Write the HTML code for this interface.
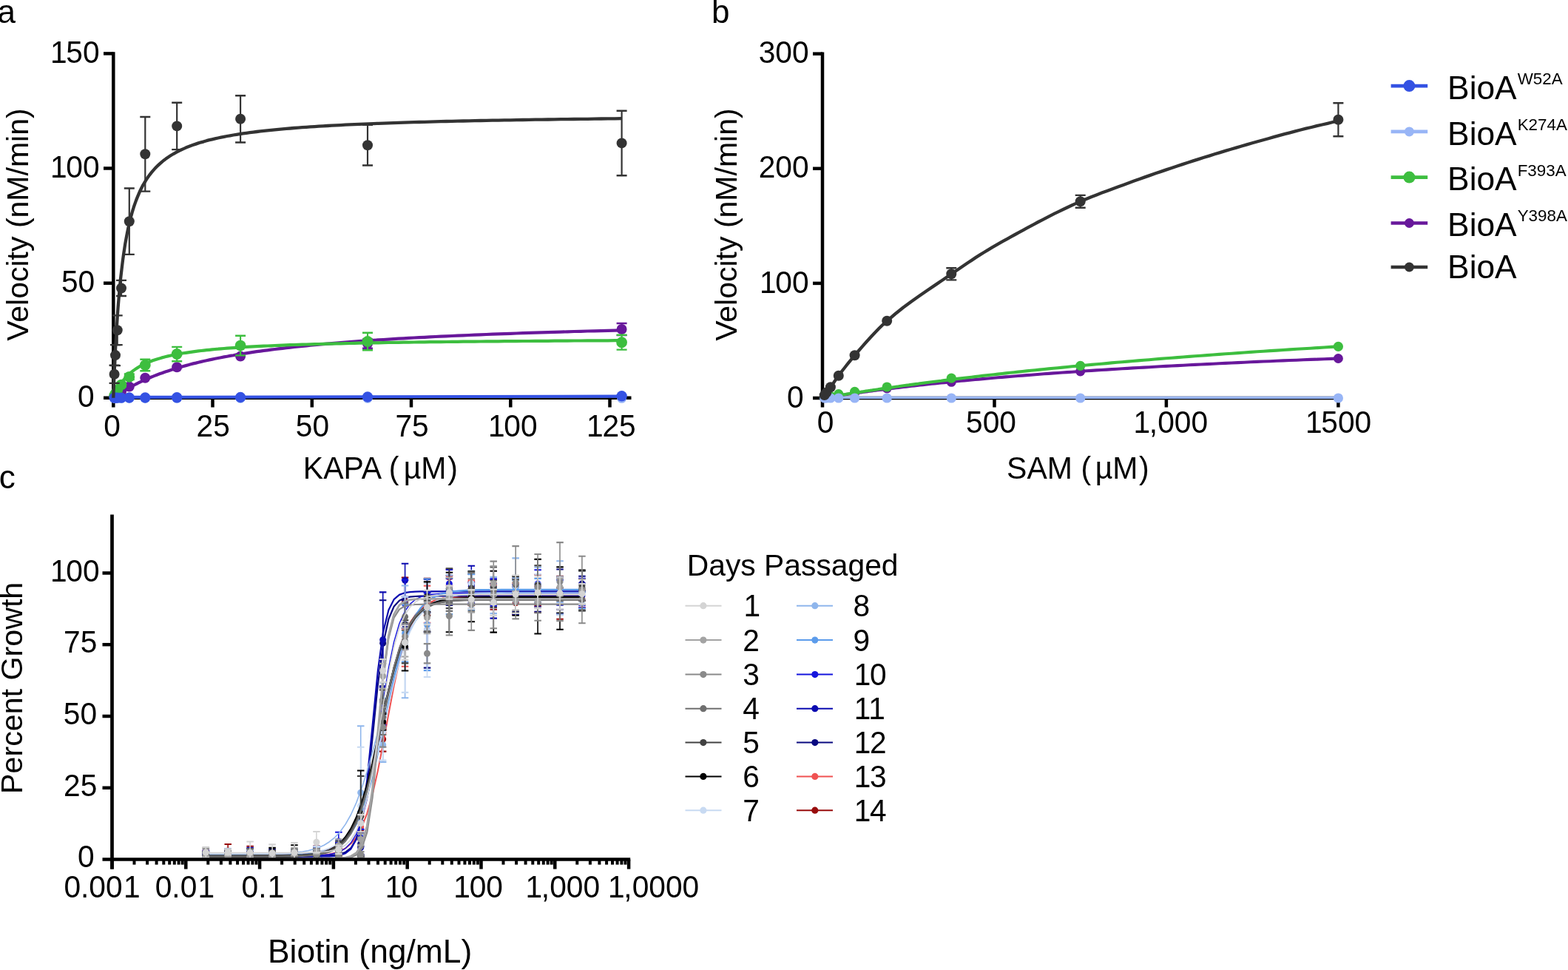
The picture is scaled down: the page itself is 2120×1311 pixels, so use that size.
<!DOCTYPE html>
<html lang="en"><head><meta charset="utf-8"><title>BioA kinetics and biotin passaging</title>
<style>html,body{margin:0;padding:0;background:#fff;}body{width:2120px;height:1311px;overflow:hidden;}svg{display:block;font-family:"Liberation Sans",sans-serif;}</style>
</head><body>
<svg width="2120" height="1311" viewBox="0 0 2120 1311">
<rect width="2120" height="1311" fill="#fff"/>
<g id="panel-letters">
<text x="-3.6" y="30.9" font-size="44">a</text>
<text x="962" y="31.2" font-size="44">b</text>
<text x="-1.2" y="659.6" font-size="44">c</text>
</g>
<g id="panel-a">
<g id="a-axes">
<line x1="153.3" y1="70.2" x2="153.3" y2="550.5" stroke="#000" stroke-width="4.5"/>
<line x1="140" y1="537.8" x2="853.5" y2="537.8" stroke="#000" stroke-width="4.5"/>
<line x1="140" y1="382.7" x2="153.3" y2="382.7" stroke="#000" stroke-width="4.5"/>
<line x1="140" y1="227.5" x2="153.3" y2="227.5" stroke="#000" stroke-width="4.5"/>
<line x1="140" y1="72.4" x2="153.3" y2="72.4" stroke="#000" stroke-width="4.5"/>
<line x1="287.5" y1="537.8" x2="287.5" y2="550.5" stroke="#000" stroke-width="4.5"/>
<line x1="421.8" y1="537.8" x2="421.8" y2="550.5" stroke="#000" stroke-width="4.5"/>
<line x1="556" y1="537.8" x2="556" y2="550.5" stroke="#000" stroke-width="4.5"/>
<line x1="690.3" y1="537.8" x2="690.3" y2="550.5" stroke="#000" stroke-width="4.5"/>
<line x1="824.5" y1="537.8" x2="824.5" y2="550.5" stroke="#000" stroke-width="4.5"/>
</g>
<g id="a-ticklabels">
<text transform="translate(66.7 85) scale(1 1.04)" font-size="40.7" dx="1.3 -1.3 0">150</text>
<text transform="translate(66.7 240.1) scale(1 1.04)" font-size="40.7" dx="1.3 -1.3 0">100</text>
<text transform="translate(82.9 395.3) scale(1 1.04)" font-size="40.7">50</text>
<text transform="translate(104.9 550.4) scale(1 1.04)" font-size="40.7">0</text>
<text transform="translate(140.3 590) scale(1 1.04)" font-size="40.7">0</text>
<text transform="translate(265.6 590) scale(1 1.04)" font-size="40.7">25</text>
<text transform="translate(399.8 590) scale(1 1.04)" font-size="40.7">50</text>
<text transform="translate(534.4 590) scale(1 1.04)" font-size="40.7">75</text>
<text transform="translate(658.7 590) scale(1 1.04)" font-size="40.7" dx="1.3 -1.3 0">100</text>
<text transform="translate(791.8 590) scale(1 1.04)" font-size="40.7" dx="1.3 -1.3 0">125</text>
</g>
<text transform="translate(409.8 646.8) scale(1 1.05)" font-size="41" dx="0 0 0 0 0 0.4 0 -5 -0.1 1.8">KAPA ( µM)</text>
<text transform="translate(38 460.8) rotate(-90)" font-size="41">Velocity (nM/min)</text>
<g id="a-Y398A">
<path d="M153.3 537.8 L153.3 537.8 L153.3 537.8 L153.4 537.7 L153.5 537.6 L153.6 537.6 L153.8 537.4 L154 537.3 L154.2 537.1 L154.5 536.9 L154.8 536.7 L155.2 536.4 L155.6 536.1 L156 535.8 L156.5 535.5 L157.1 535.1 L157.6 534.7 L158.3 534.3 L158.9 533.8 L159.6 533.3 L160.4 532.8 L161.2 532.3 L162 531.7 L162.9 531.2 L163.9 530.5 L164.9 529.9 L165.9 529.2 L167 528.6 L168.2 527.9 L169.3 527.1 L170.6 526.4 L171.9 525.6 L173.2 524.9 L174.6 524.1 L176.1 523.3 L177.6 522.4 L179.1 521.6 L180.7 520.7 L182.4 519.9 L184.1 519 L185.9 518.1 L187.7 517.2 L189.5 516.3 L191.5 515.4 L193.4 514.5 L195.5 513.6 L197.6 512.6 L199.7 511.7 L201.9 510.8 L204.2 509.8 L206.5 508.9 L208.9 507.9 L211.3 507 L213.8 506 L216.3 505.1 L218.9 504.2 L221.5 503.2 L224.3 502.3 L227 501.4 L229.9 500.4 L232.7 499.5 L235.7 498.6 L238.7 497.7 L241.7 496.8 L244.9 495.9 L248 495 L251.3 494.1 L254.6 493.2 L257.9 492.3 L261.3 491.4 L264.8 490.6 L268.3 489.7 L271.9 488.9 L275.6 488 L279.3 487.2 L283.1 486.4 L286.9 485.6 L290.8 484.8 L294.8 484 L298.8 483.2 L302.9 482.4 L307 481.7 L311.2 480.9 L315.5 480.2 L319.8 479.4 L324.2 478.7 L328.7 478 L333.2 477.3 L337.8 476.6 L342.4 475.9 L347.1 475.2 L351.9 474.6 L356.7 473.9 L361.6 473.3 L366.6 472.6 L371.6 472 L376.7 471.4 L381.9 470.8 L387.1 470.2 L392.3 469.6 L397.7 469 L403.1 468.4 L408.6 467.8 L414.1 467.3 L419.7 466.7 L425.4 466.2 L431.1 465.6 L436.9 465.1 L442.8 464.6 L448.7 464.1 L454.7 463.6 L460.8 463.1 L466.9 462.6 L473.1 462.1 L479.3 461.7 L485.7 461.2 L492.1 460.7 L498.5 460.3 L505 459.8 L511.6 459.4 L518.3 459 L525 458.6 L531.8 458.1 L538.7 457.7 L545.6 457.3 L552.6 456.9 L559.7 456.5 L566.8 456.2 L574 455.8 L581.2 455.4 L588.6 455 L596 454.7 L603.4 454.3 L611 454 L618.6 453.6 L626.3 453.3 L634 453 L641.8 452.6 L649.7 452.3 L657.6 452 L665.7 451.7 L673.7 451.4 L681.9 451.1 L690.1 450.8 L698.4 450.5 L706.8 450.2 L715.2 449.9 L723.7 449.6 L732.3 449.4 L740.9 449.1 L749.6 448.8 L758.4 448.6 L767.3 448.3 L776.2 448 L785.2 447.8 L794.2 447.5 L803.4 447.3 L812.6 447.1 L821.8 446.8 L831.2 446.6 L840.6 446.4" fill="none" stroke="#68189B" stroke-width="4.2" stroke-linejoin="round"/>
<path d="M497 458.4V470.8" stroke="#68189B" stroke-width="2.2"/>
<path d="M490 458.4h14M490 470.8h14" stroke="#68189B" stroke-width="2.4"/>
<path d="M840.6 437V453.1" stroke="#68189B" stroke-width="2.2"/>
<path d="M833.6 437h14M833.6 453.1h14" stroke="#68189B" stroke-width="2.4"/>
<circle cx="154.6" cy="536.6" r="7" fill="#68189B"/>
<circle cx="156" cy="535.3" r="7" fill="#68189B"/>
<circle cx="158.7" cy="533.5" r="7" fill="#68189B"/>
<circle cx="164" cy="529.7" r="7" fill="#68189B"/>
<circle cx="174.8" cy="522.6" r="7" fill="#68189B"/>
<circle cx="196.3" cy="510.8" r="7" fill="#68189B"/>
<circle cx="239.2" cy="496.2" r="7" fill="#68189B"/>
<circle cx="325.1" cy="481.6" r="7" fill="#68189B"/>
<circle cx="497" cy="464.6" r="7" fill="#68189B"/>
<circle cx="840.6" cy="445" r="7" fill="#68189B"/>
</g>
<g id="a-F393A">
<path d="M153.3 537.8 L153.3 537.8 L153.3 537.7 L153.4 537.5 L153.5 537.3 L153.6 537 L153.8 536.6 L154 536.1 L154.2 535.5 L154.5 534.9 L154.8 534.1 L155.2 533.3 L155.6 532.4 L156 531.5 L156.5 530.4 L157.1 529.4 L157.6 528.2 L158.3 527 L158.9 525.8 L159.6 524.5 L160.4 523.2 L161.2 521.9 L162 520.6 L162.9 519.2 L163.9 517.8 L164.9 516.4 L165.9 515.1 L167 513.7 L168.2 512.3 L169.3 510.9 L170.6 509.6 L171.9 508.2 L173.2 506.9 L174.6 505.6 L176.1 504.3 L177.6 503 L179.1 501.8 L180.7 500.6 L182.4 499.4 L184.1 498.2 L185.9 497.1 L187.7 496 L189.5 494.9 L191.5 493.9 L193.4 492.9 L195.5 491.9 L197.6 490.9 L199.7 490 L201.9 489.1 L204.2 488.2 L206.5 487.3 L208.9 486.5 L211.3 485.7 L213.8 484.9 L216.3 484.2 L218.9 483.4 L221.5 482.7 L224.3 482 L227 481.4 L229.9 480.7 L232.7 480.1 L235.7 479.5 L238.7 478.9 L241.7 478.3 L244.9 477.8 L248 477.3 L251.3 476.8 L254.6 476.3 L257.9 475.8 L261.3 475.3 L264.8 474.8 L268.3 474.4 L271.9 474 L275.6 473.6 L279.3 473.2 L283.1 472.8 L286.9 472.4 L290.8 472 L294.8 471.7 L298.8 471.3 L302.9 471 L307 470.7 L311.2 470.4 L315.5 470.1 L319.8 469.8 L324.2 469.5 L328.7 469.2 L333.2 468.9 L337.8 468.7 L342.4 468.4 L347.1 468.2 L351.9 467.9 L356.7 467.7 L361.6 467.5 L366.6 467.3 L371.6 467 L376.7 466.8 L381.9 466.6 L387.1 466.4 L392.3 466.2 L397.7 466 L403.1 465.9 L408.6 465.7 L414.1 465.5 L419.7 465.3 L425.4 465.2 L431.1 465 L436.9 464.9 L442.8 464.7 L448.7 464.6 L454.7 464.4 L460.8 464.3 L466.9 464.1 L473.1 464 L479.3 463.9 L485.7 463.7 L492.1 463.6 L498.5 463.5 L505 463.4 L511.6 463.3 L518.3 463.2 L525 463 L531.8 462.9 L538.7 462.8 L545.6 462.7 L552.6 462.6 L559.7 462.5 L566.8 462.4 L574 462.3 L581.2 462.2 L588.6 462.2 L596 462.1 L603.4 462 L611 461.9 L618.6 461.8 L626.3 461.7 L634 461.7 L641.8 461.6 L649.7 461.5 L657.6 461.4 L665.7 461.4 L673.7 461.3 L681.9 461.2 L690.1 461.1 L698.4 461.1 L706.8 461 L715.2 461 L723.7 460.9 L732.3 460.8 L740.9 460.8 L749.6 460.7 L758.4 460.7 L767.3 460.6 L776.2 460.5 L785.2 460.5 L794.2 460.4 L803.4 460.4 L812.6 460.3 L821.8 460.3 L831.2 460.2 L840.6 460.2" fill="none" stroke="#3DBE3F" stroke-width="4.2" stroke-linejoin="round"/>
<path d="M164 517.6V522.6" stroke="#3DBE3F" stroke-width="2.2"/>
<path d="M157 517.6h14M157 522.6h14" stroke="#3DBE3F" stroke-width="2.4"/>
<path d="M174.8 505.5V513" stroke="#3DBE3F" stroke-width="2.2"/>
<path d="M167.8 505.5h14M167.8 513h14" stroke="#3DBE3F" stroke-width="2.4"/>
<path d="M196.3 485.8V501.3" stroke="#3DBE3F" stroke-width="2.2"/>
<path d="M189.3 485.8h14M189.3 501.3h14" stroke="#3DBE3F" stroke-width="2.4"/>
<path d="M239.2 468.9V488.2" stroke="#3DBE3F" stroke-width="2.2"/>
<path d="M232.2 468.9h14M232.2 488.2h14" stroke="#3DBE3F" stroke-width="2.4"/>
<path d="M325.1 453.7V480.4" stroke="#3DBE3F" stroke-width="2.2"/>
<path d="M318.1 453.7h14M318.1 480.4h14" stroke="#3DBE3F" stroke-width="2.4"/>
<path d="M497 449.7V473.3" stroke="#3DBE3F" stroke-width="2.2"/>
<path d="M490 449.7h14M490 473.3h14" stroke="#3DBE3F" stroke-width="2.4"/>
<path d="M840.6 452.8V472.6" stroke="#3DBE3F" stroke-width="2.2"/>
<path d="M833.6 452.8h14M833.6 472.6h14" stroke="#3DBE3F" stroke-width="2.4"/>
<circle cx="154.6" cy="534.7" r="7.4" fill="#3DBE3F"/>
<circle cx="156" cy="531.9" r="7.4" fill="#3DBE3F"/>
<circle cx="158.7" cy="527.3" r="7.4" fill="#3DBE3F"/>
<circle cx="164" cy="520.1" r="7.4" fill="#3DBE3F"/>
<circle cx="174.8" cy="509.3" r="7.4" fill="#3DBE3F"/>
<circle cx="196.3" cy="493.6" r="7.4" fill="#3DBE3F"/>
<circle cx="239.2" cy="478.5" r="7.4" fill="#3DBE3F"/>
<circle cx="325.1" cy="467.1" r="7.4" fill="#3DBE3F"/>
<circle cx="497" cy="461.5" r="7.4" fill="#3DBE3F"/>
<circle cx="840.6" cy="462.7" r="7.4" fill="#3DBE3F"/>
</g>
<g id="a-K274A">
<path d="M153.3 536.8 L840.6 535.8" fill="none" stroke="#98B5F6" stroke-width="3" stroke-linejoin="round"/>
<circle cx="154.6" cy="538.3" r="6.5" fill="#98B5F6"/>
<circle cx="156" cy="538.3" r="6.5" fill="#98B5F6"/>
<circle cx="158.7" cy="538.3" r="6.5" fill="#98B5F6"/>
<circle cx="164" cy="538.3" r="6.5" fill="#98B5F6"/>
<circle cx="174.8" cy="538.3" r="6.5" fill="#98B5F6"/>
<circle cx="196.3" cy="538.3" r="6.5" fill="#98B5F6"/>
<circle cx="239.2" cy="538.3" r="6.5" fill="#98B5F6"/>
<circle cx="325.1" cy="538.3" r="6.5" fill="#98B5F6"/>
<circle cx="497" cy="538.3" r="6.5" fill="#98B5F6"/>
<circle cx="840.6" cy="538.3" r="6.5" fill="#98B5F6"/>
</g>
<g id="a-W52A">
<path d="M153.3 536.9 L840.6 535.6" fill="none" stroke="#3452E3" stroke-width="4.1" stroke-linejoin="round"/>
<circle cx="154.6" cy="537.6" r="7.2" fill="#3452E3"/>
<circle cx="156" cy="537.6" r="7.2" fill="#3452E3"/>
<circle cx="158.7" cy="537.6" r="7.2" fill="#3452E3"/>
<circle cx="164" cy="537.6" r="7.2" fill="#3452E3"/>
<circle cx="174.8" cy="537.5" r="7.2" fill="#3452E3"/>
<circle cx="196.3" cy="537.5" r="7.2" fill="#3452E3"/>
<circle cx="239.2" cy="537.3" r="7.2" fill="#3452E3"/>
<circle cx="325.1" cy="537" r="7.2" fill="#3452E3"/>
<circle cx="497" cy="536.5" r="7.2" fill="#3452E3"/>
<circle cx="840.6" cy="535.3" r="7.2" fill="#3452E3"/>
</g>
<g id="a-BioA">
<path d="M153.3 537.8 L153.3 537.5 L153.3 536.5 L153.4 534.7 L153.5 532.1 L153.6 528.5 L153.8 524.1 L154 518.8 L154.2 512.8 L154.5 506 L154.8 498.6 L155.2 490.5 L155.6 482 L156 473 L156.5 463.8 L157.1 454.3 L157.6 444.6 L158.3 434.9 L158.9 425.1 L159.6 415.4 L160.4 405.8 L161.2 396.4 L162 387.1 L162.9 378 L163.9 369.2 L164.9 360.7 L165.9 352.4 L167 344.4 L168.2 336.7 L169.3 329.3 L170.6 322.2 L171.9 315.4 L173.2 308.9 L174.6 302.6 L176.1 296.6 L177.6 290.9 L179.1 285.5 L180.7 280.3 L182.4 275.4 L184.1 270.6 L185.9 266.1 L187.7 261.8 L189.5 257.7 L191.5 253.8 L193.4 250.1 L195.5 246.6 L197.6 243.2 L199.7 239.9 L201.9 236.8 L204.2 233.9 L206.5 231.1 L208.9 228.4 L211.3 225.8 L213.8 223.4 L216.3 221.1 L218.9 218.8 L221.5 216.7 L224.3 214.6 L227 212.7 L229.9 210.8 L232.7 209 L235.7 207.3 L238.7 205.6 L241.7 204 L244.9 202.5 L248 201.1 L251.3 199.6 L254.6 198.3 L257.9 197 L261.3 195.8 L264.8 194.6 L268.3 193.4 L271.9 192.3 L275.6 191.3 L279.3 190.2 L283.1 189.2 L286.9 188.3 L290.8 187.4 L294.8 186.5 L298.8 185.6 L302.9 184.8 L307 184 L311.2 183.3 L315.5 182.5 L319.8 181.8 L324.2 181.1 L328.7 180.4 L333.2 179.8 L337.8 179.2 L342.4 178.6 L347.1 178 L351.9 177.4 L356.7 176.9 L361.6 176.3 L366.6 175.8 L371.6 175.3 L376.7 174.8 L381.9 174.4 L387.1 173.9 L392.3 173.5 L397.7 173 L403.1 172.6 L408.6 172.2 L414.1 171.8 L419.7 171.4 L425.4 171.1 L431.1 170.7 L436.9 170.4 L442.8 170 L448.7 169.7 L454.7 169.4 L460.8 169.1 L466.9 168.7 L473.1 168.4 L479.3 168.2 L485.7 167.9 L492.1 167.6 L498.5 167.3 L505 167.1 L511.6 166.8 L518.3 166.6 L525 166.3 L531.8 166.1 L538.7 165.9 L545.6 165.6 L552.6 165.4 L559.7 165.2 L566.8 165 L574 164.8 L581.2 164.6 L588.6 164.4 L596 164.2 L603.4 164 L611 163.9 L618.6 163.7 L626.3 163.5 L634 163.3 L641.8 163.2 L649.7 163 L657.6 162.9 L665.7 162.7 L673.7 162.6 L681.9 162.4 L690.1 162.3 L698.4 162.1 L706.8 162 L715.2 161.8 L723.7 161.7 L732.3 161.6 L740.9 161.5 L749.6 161.3 L758.4 161.2 L767.3 161.1 L776.2 161 L785.2 160.9 L794.2 160.8 L803.4 160.6 L812.6 160.5 L821.8 160.4 L831.2 160.3 L840.6 160.2" fill="none" stroke="#333333" stroke-width="4.3" stroke-linejoin="round"/>
<path d="M154.6 493.7V517.9" stroke="#333333" stroke-width="2.2"/>
<path d="M147.6 493.7h14M147.6 517.9h14" stroke="#333333" stroke-width="2.4"/>
<path d="M156 466.1V494.1" stroke="#333333" stroke-width="2.2"/>
<path d="M149 466.1h14M149 494.1h14" stroke="#333333" stroke-width="2.4"/>
<path d="M158.7 426.4V466.1" stroke="#333333" stroke-width="2.2"/>
<path d="M151.7 426.4h14M151.7 466.1h14" stroke="#333333" stroke-width="2.4"/>
<path d="M164 378.9V400" stroke="#333333" stroke-width="2.2"/>
<path d="M157 378.9h14M157 400h14" stroke="#333333" stroke-width="2.4"/>
<path d="M174.8 254.5V343.9" stroke="#333333" stroke-width="2.2"/>
<path d="M167.8 254.5h14M167.8 343.9h14" stroke="#333333" stroke-width="2.4"/>
<path d="M196.3 158V258.6" stroke="#333333" stroke-width="2.2"/>
<path d="M189.3 158h14M189.3 258.6h14" stroke="#333333" stroke-width="2.4"/>
<path d="M239.2 138.8V202.1" stroke="#333333" stroke-width="2.2"/>
<path d="M232.2 138.8h14M232.2 202.1h14" stroke="#333333" stroke-width="2.4"/>
<path d="M325.1 129.2V192.5" stroke="#333333" stroke-width="2.2"/>
<path d="M318.1 129.2h14M318.1 192.5h14" stroke="#333333" stroke-width="2.4"/>
<path d="M497 168.9V223.5" stroke="#333333" stroke-width="2.2"/>
<path d="M490 168.9h14M490 223.5h14" stroke="#333333" stroke-width="2.4"/>
<path d="M840.6 149.7V237.2" stroke="#333333" stroke-width="2.2"/>
<path d="M833.6 149.7h14M833.6 237.2h14" stroke="#333333" stroke-width="2.4"/>
<circle cx="154.6" cy="505.8" r="7" fill="#333333"/>
<circle cx="156" cy="480.1" r="7" fill="#333333"/>
<circle cx="158.7" cy="446.3" r="7" fill="#333333"/>
<circle cx="164" cy="389.5" r="7" fill="#333333"/>
<circle cx="174.8" cy="299.2" r="7" fill="#333333"/>
<circle cx="196.3" cy="208.3" r="7" fill="#333333"/>
<circle cx="239.2" cy="170.4" r="7" fill="#333333"/>
<circle cx="325.1" cy="160.8" r="7" fill="#333333"/>
<circle cx="497" cy="196.2" r="7" fill="#333333"/>
<circle cx="840.6" cy="193.4" r="7" fill="#333333"/>
</g>
</g>
<g id="panel-b">
<g id="b-axes">
<line x1="1112" y1="70.5" x2="1112" y2="550.5" stroke="#000" stroke-width="4.5"/>
<line x1="1099" y1="538" x2="1811.7" y2="538" stroke="#000" stroke-width="4.5"/>
<line x1="1099" y1="382.9" x2="1112" y2="382.9" stroke="#000" stroke-width="4.5"/>
<line x1="1099" y1="227.8" x2="1112" y2="227.8" stroke="#000" stroke-width="4.5"/>
<line x1="1099" y1="72.7" x2="1112" y2="72.7" stroke="#000" stroke-width="4.5"/>
<line x1="1344.5" y1="538" x2="1344.5" y2="550.5" stroke="#000" stroke-width="4.5"/>
<line x1="1576.9" y1="538" x2="1576.9" y2="550.5" stroke="#000" stroke-width="4.5"/>
<line x1="1809.4" y1="538" x2="1809.4" y2="550.5" stroke="#000" stroke-width="4.5"/>
</g>
<g id="b-ticklabels">
<text transform="translate(1025.7 85.3) scale(1 1.04)" font-size="40.7">300</text>
<text transform="translate(1025.7 240.4) scale(1 1.04)" font-size="40.7">200</text>
<text transform="translate(1025.7 395.5) scale(1 1.04)" font-size="40.7" dx="1.3 -1.3 0">100</text>
<text transform="translate(1063.9 550.6) scale(1 1.04)" font-size="40.7">0</text>
<text transform="translate(1104.7 585) scale(1 1.04)" font-size="40.7">0</text>
<text transform="translate(1306 585) scale(1 1.04)" font-size="40.7">500</text>
<text transform="translate(1531.2 585) scale(1 1.04)" font-size="40.7" dx="1.3 -1.3 0 0 0">1,000</text>
<text transform="translate(1763.7 585) scale(1 1.04)" font-size="40.7" dx="1.3 -1.3 0 0">1500</text>
</g>
<text transform="translate(1361.1 646.8) scale(1 1.05)" font-size="41" dx="0 0 0 0 0.1 0 -5.7 -0.2 1.7">SAM ( µM)</text>
<text transform="translate(996 460.8) rotate(-90)" font-size="41">Velocity (nM/min)</text>
<g id="b-W52A">
<path d="M1112 537.5 L1809.4 537.5" fill="none" stroke="#3452E3" stroke-width="3" stroke-linejoin="round"/>
</g>
<g id="b-Y398A">
<path d="M1112 538 L1112 538 L1112 538 L1112.1 538 L1112.2 538 L1112.3 537.9 L1112.5 537.9 L1112.7 537.9 L1113 537.8 L1113.2 537.8 L1113.6 537.8 L1113.9 537.7 L1114.3 537.6 L1114.8 537.6 L1115.3 537.5 L1115.8 537.4 L1116.4 537.3 L1117 537.2 L1117.7 537.1 L1118.4 537 L1119.2 536.9 L1120 536.7 L1120.9 536.6 L1121.8 536.5 L1122.7 536.3 L1123.7 536.2 L1124.8 536 L1125.9 535.8 L1127.1 535.6 L1128.3 535.5 L1129.5 535.3 L1130.9 535.1 L1132.2 534.9 L1133.6 534.7 L1135.1 534.4 L1136.6 534.2 L1138.2 534 L1139.8 533.7 L1141.5 533.5 L1143.2 533.2 L1145 533 L1146.9 532.7 L1148.8 532.4 L1150.7 532.2 L1152.7 531.9 L1154.8 531.6 L1156.9 531.3 L1159.1 531 L1161.3 530.7 L1163.6 530.4 L1166 530.1 L1168.4 529.7 L1170.8 529.4 L1173.4 529.1 L1175.9 528.7 L1178.6 528.4 L1181.3 528 L1184 527.7 L1186.8 527.3 L1189.7 526.9 L1192.6 526.6 L1195.6 526.2 L1198.6 525.8 L1201.7 525.4 L1204.9 525 L1208.1 524.6 L1211.4 524.3 L1214.8 523.9 L1218.2 523.5 L1221.6 523 L1225.1 522.6 L1228.7 522.2 L1232.4 521.8 L1236.1 521.4 L1239.9 521 L1243.7 520.5 L1247.6 520.1 L1251.5 519.7 L1255.6 519.3 L1259.6 518.8 L1263.8 518.4 L1268 518 L1272.3 517.5 L1276.6 517.1 L1281 516.6 L1285.4 516.2 L1290 515.7 L1294.5 515.3 L1299.2 514.8 L1303.9 514.4 L1308.7 513.9 L1313.5 513.5 L1318.4 513 L1323.4 512.6 L1328.4 512.1 L1333.5 511.7 L1338.7 511.2 L1343.9 510.8 L1349.2 510.3 L1354.6 509.9 L1360 509.4 L1365.5 509 L1371 508.5 L1376.6 508 L1382.3 507.6 L1388.1 507.1 L1393.9 506.7 L1399.8 506.2 L1405.7 505.8 L1411.7 505.3 L1417.8 504.9 L1424 504.4 L1430.2 504 L1436.5 503.5 L1442.8 503.1 L1449.3 502.7 L1455.7 502.2 L1462.3 501.8 L1468.9 501.3 L1475.6 500.9 L1482.4 500.4 L1489.2 500 L1496.1 499.6 L1503 499.1 L1510.1 498.7 L1517.2 498.3 L1524.3 497.9 L1531.6 497.4 L1538.9 497 L1546.2 496.6 L1553.7 496.2 L1561.2 495.7 L1568.8 495.3 L1576.4 494.9 L1584.1 494.5 L1591.9 494.1 L1599.8 493.7 L1607.7 493.3 L1615.7 492.9 L1623.7 492.5 L1631.9 492.1 L1640.1 491.7 L1648.4 491.3 L1656.7 490.9 L1665.1 490.5 L1673.6 490.1 L1682.2 489.7 L1690.8 489.3 L1699.5 488.9 L1708.2 488.5 L1717.1 488.2 L1726 487.8 L1735 487.4 L1744 487 L1753.2 486.7 L1762.4 486.3 L1771.6 485.9 L1781 485.6 L1790.4 485.2 L1799.8 484.9 L1809.4 484.5" fill="none" stroke="#68189B" stroke-width="4.1" stroke-linejoin="round"/>
<circle cx="1114.7" cy="537.5" r="6.5" fill="#68189B"/>
<circle cx="1117.4" cy="537.1" r="6.5" fill="#68189B"/>
<circle cx="1122.9" cy="536.3" r="6.5" fill="#68189B"/>
<circle cx="1133.8" cy="534.6" r="6.5" fill="#68189B"/>
<circle cx="1155.6" cy="531.3" r="6.5" fill="#68189B"/>
<circle cx="1199.2" cy="525" r="6.5" fill="#68189B"/>
<circle cx="1286.3" cy="516.3" r="6.5" fill="#68189B"/>
<circle cx="1460.7" cy="501.9" r="6.5" fill="#68189B"/>
<circle cx="1809.4" cy="484.5" r="6.5" fill="#68189B"/>
</g>
<g id="b-F393A">
<path d="M1112 538 L1112 538 L1112 538 L1112.1 538 L1112.2 538 L1112.3 537.9 L1112.5 537.9 L1112.7 537.9 L1113 537.8 L1113.2 537.8 L1113.6 537.7 L1113.9 537.7 L1114.3 537.6 L1114.8 537.5 L1115.3 537.4 L1115.8 537.4 L1116.4 537.3 L1117 537.2 L1117.7 537 L1118.4 536.9 L1119.2 536.8 L1120 536.7 L1120.9 536.5 L1121.8 536.4 L1122.7 536.2 L1123.7 536 L1124.8 535.9 L1125.9 535.7 L1127.1 535.5 L1128.3 535.3 L1129.5 535.1 L1130.9 534.9 L1132.2 534.7 L1133.6 534.4 L1135.1 534.2 L1136.6 533.9 L1138.2 533.7 L1139.8 533.4 L1141.5 533.2 L1143.2 532.9 L1145 532.6 L1146.9 532.3 L1148.8 532 L1150.7 531.7 L1152.7 531.4 L1154.8 531.1 L1156.9 530.7 L1159.1 530.4 L1161.3 530.1 L1163.6 529.7 L1166 529.4 L1168.4 529 L1170.8 528.6 L1173.4 528.2 L1175.9 527.9 L1178.6 527.5 L1181.3 527.1 L1184 526.7 L1186.8 526.3 L1189.7 525.8 L1192.6 525.4 L1195.6 525 L1198.6 524.5 L1201.7 524.1 L1204.9 523.7 L1208.1 523.2 L1211.4 522.7 L1214.8 522.3 L1218.2 521.8 L1221.6 521.3 L1225.1 520.8 L1228.7 520.4 L1232.4 519.9 L1236.1 519.4 L1239.9 518.9 L1243.7 518.3 L1247.6 517.8 L1251.5 517.3 L1255.6 516.8 L1259.6 516.3 L1263.8 515.7 L1268 515.2 L1272.3 514.7 L1276.6 514.1 L1281 513.6 L1285.4 513 L1290 512.5 L1294.5 511.9 L1299.2 511.4 L1303.9 510.8 L1308.7 510.2 L1313.5 509.7 L1318.4 509.1 L1323.4 508.5 L1328.4 507.9 L1333.5 507.4 L1338.7 506.8 L1343.9 506.2 L1349.2 505.6 L1354.6 505 L1360 504.4 L1365.5 503.8 L1371 503.2 L1376.6 502.6 L1382.3 502 L1388.1 501.4 L1393.9 500.8 L1399.8 500.2 L1405.7 499.6 L1411.7 499 L1417.8 498.4 L1424 497.8 L1430.2 497.2 L1436.5 496.6 L1442.8 496 L1449.3 495.3 L1455.7 494.7 L1462.3 494.1 L1468.9 493.5 L1475.6 492.9 L1482.4 492.3 L1489.2 491.7 L1496.1 491.1 L1503 490.4 L1510.1 489.8 L1517.2 489.2 L1524.3 488.6 L1531.6 488 L1538.9 487.4 L1546.2 486.8 L1553.7 486.2 L1561.2 485.5 L1568.8 484.9 L1576.4 484.3 L1584.1 483.7 L1591.9 483.1 L1599.8 482.5 L1607.7 481.9 L1615.7 481.3 L1623.7 480.7 L1631.9 480.1 L1640.1 479.5 L1648.4 478.9 L1656.7 478.3 L1665.1 477.7 L1673.6 477.1 L1682.2 476.5 L1690.8 475.9 L1699.5 475.3 L1708.2 474.7 L1717.1 474.1 L1726 473.6 L1735 473 L1744 472.4 L1753.2 471.8 L1762.4 471.2 L1771.6 470.7 L1781 470.1 L1790.4 469.5 L1799.8 468.9 L1809.4 468.4" fill="none" stroke="#3DBE3F" stroke-width="4.1" stroke-linejoin="round"/>
<circle cx="1114.7" cy="537.2" r="6.6" fill="#3DBE3F"/>
<circle cx="1117.4" cy="536.6" r="6.6" fill="#3DBE3F"/>
<circle cx="1122.9" cy="535.4" r="6.6" fill="#3DBE3F"/>
<circle cx="1133.8" cy="532.6" r="6.6" fill="#3DBE3F"/>
<circle cx="1155.6" cy="529.3" r="6.6" fill="#3DBE3F"/>
<circle cx="1199.2" cy="523" r="6.6" fill="#3DBE3F"/>
<circle cx="1286.3" cy="511.2" r="6.6" fill="#3DBE3F"/>
<circle cx="1460.7" cy="494.3" r="6.6" fill="#3DBE3F"/>
<circle cx="1809.4" cy="468.4" r="6.6" fill="#3DBE3F"/>
</g>
<g id="b-K274A">
<path d="M1112 537.4 L1809.4 537.4" fill="none" stroke="#98B5F6" stroke-width="3.2" stroke-linejoin="round"/>
<circle cx="1114.7" cy="538" r="6.6" fill="#98B5F6"/>
<circle cx="1117.4" cy="538" r="6.6" fill="#98B5F6"/>
<circle cx="1122.9" cy="538" r="6.6" fill="#98B5F6"/>
<circle cx="1133.8" cy="538" r="6.6" fill="#98B5F6"/>
<circle cx="1155.6" cy="538" r="6.6" fill="#98B5F6"/>
<circle cx="1199.2" cy="538" r="6.6" fill="#98B5F6"/>
<circle cx="1286.3" cy="538" r="6.6" fill="#98B5F6"/>
<circle cx="1460.7" cy="538" r="6.6" fill="#98B5F6"/>
<circle cx="1809.4" cy="538" r="6.6" fill="#98B5F6"/>
</g>
<g id="b-BioA">
<path d="M1112 538 L1112.3 537.5 L1112.7 537 L1113 536.5 L1113.4 536 L1113.7 535.6 L1114 535.1 L1114.4 534.6 L1114.7 534.1 L1115.1 533.7 L1115.4 533.2 L1115.7 532.8 L1116.1 532.3 L1116.4 531.9 L1116.8 531.4 L1117.1 531 L1117.4 530.6 L1118.1 529.7 L1118.8 528.8 L1119.5 527.9 L1120.2 526.9 L1120.9 526 L1121.5 525.1 L1122.2 524.2 L1122.9 523.3 L1124.3 521.4 L1125.6 519.4 L1127 517.5 L1128.3 515.5 L1129.7 513.5 L1131.1 511.5 L1132.4 509.6 L1133.8 507.8 L1136.5 504.1 L1139.2 500.5 L1142 497 L1144.7 493.5 L1147.4 490.1 L1150.1 486.8 L1152.9 483.5 L1155.6 480.3 L1161 474 L1166.5 467.7 L1171.9 461.5 L1177.4 455.5 L1182.8 449.7 L1188.3 444.1 L1193.7 438.8 L1199.2 433.8 L1210.1 424.5 L1221 415.8 L1231.9 407.7 L1242.8 400 L1253.7 392.5 L1264.6 385.1 L1275.5 377.8 L1286.3 370.3 L1291.9 366.5 L1297.4 362.7 L1302.9 359 L1308.4 355.2 L1314 351.6 L1319.5 347.9 L1325 344.4 L1330.5 341 L1335.7 337.8 L1341 334.7 L1346.2 331.7 L1351.4 328.7 L1356.7 325.7 L1361.9 322.8 L1367.1 319.9 L1372.4 317 L1377.6 314.1 L1382.8 311.3 L1388.1 308.4 L1393.3 305.6 L1398.5 302.8 L1403.7 300 L1409 297.3 L1414.2 294.6 L1420 291.6 L1425.8 288.7 L1431.6 285.8 L1437.5 283 L1443.3 280.2 L1449.1 277.5 L1454.9 274.9 L1460.7 272.3 L1468 269.3 L1475.2 266.3 L1482.5 263.4 L1489.8 260.6 L1497 257.9 L1504.3 255.2 L1511.6 252.5 L1518.8 249.9 L1526.1 247.2 L1533.3 244.6 L1540.6 242 L1547.9 239.4 L1555.1 236.9 L1562.4 234.3 L1569.7 231.9 L1576.9 229.4 L1584.2 227 L1591.5 224.5 L1598.7 222.1 L1606 219.8 L1613.3 217.4 L1620.5 215.1 L1627.8 212.8 L1635.1 210.6 L1642.3 208.3 L1649.6 206.1 L1656.8 203.9 L1664.1 201.8 L1671.4 199.6 L1678.6 197.5 L1685.9 195.4 L1693.2 193.3 L1700.4 191.2 L1707.7 189.2 L1715 187.2 L1722.2 185.1 L1729.5 183.1 L1736.8 181.2 L1744 179.3 L1751.3 177.4 L1758.5 175.5 L1765.8 173.7 L1773.1 172 L1780.3 170.2 L1787.6 168.5 L1794.9 166.8 L1802.1 165 L1809.4 163.3" fill="none" stroke="#333333" stroke-width="4.3" stroke-linejoin="round"/>
<path d="M1286.3 362.3V378.4" stroke="#333333" stroke-width="2.2"/>
<path d="M1279.3 362.3h14M1279.3 378.4h14" stroke="#333333" stroke-width="2.4"/>
<path d="M1460.7 263.9V280.7" stroke="#333333" stroke-width="2.2"/>
<path d="M1453.7 263.9h14M1453.7 280.7h14" stroke="#333333" stroke-width="2.4"/>
<path d="M1809.4 139.2V184.2" stroke="#333333" stroke-width="2.2"/>
<path d="M1802.4 139.2h14M1802.4 184.2h14" stroke="#333333" stroke-width="2.4"/>
<circle cx="1114.7" cy="534.1" r="7" fill="#333333"/>
<circle cx="1117.4" cy="530.6" r="7" fill="#333333"/>
<circle cx="1122.9" cy="523.3" r="7" fill="#333333"/>
<circle cx="1133.8" cy="507.8" r="7" fill="#333333"/>
<circle cx="1155.6" cy="480.3" r="7" fill="#333333"/>
<circle cx="1199.2" cy="433.8" r="7" fill="#333333"/>
<circle cx="1286.3" cy="370.3" r="7" fill="#333333"/>
<circle cx="1460.7" cy="272.3" r="7" fill="#333333"/>
<circle cx="1809.4" cy="161.7" r="7" fill="#333333"/>
</g>
</g>
<g id="legend-ab">
<line x1="1880.6" y1="116.1" x2="1930.2" y2="116.1" stroke="#3452E3" stroke-width="4.6"/>
<circle cx="1905.4" cy="116.1" r="8" fill="#3452E3"/>
<text transform="translate(1957.1 133.8) scale(1 1)" font-size="44.3">BioA<tspan font-size="22.4" dy="-19.4" dx="1">W52A</tspan></text>
<line x1="1880.6" y1="177.9" x2="1930.2" y2="177.9" stroke="#98B5F6" stroke-width="4.6"/>
<circle cx="1905.4" cy="177.9" r="6.5" fill="#98B5F6"/>
<text transform="translate(1957.1 195.5) scale(1 1)" font-size="44.3">BioA<tspan font-size="22.4" dy="-19.4" dx="1">K274A</tspan></text>
<line x1="1880.6" y1="239.6" x2="1930.2" y2="239.6" stroke="#3DBE3F" stroke-width="4.6"/>
<circle cx="1905.4" cy="239.6" r="8" fill="#3DBE3F"/>
<text transform="translate(1957.1 257.2) scale(1 1)" font-size="44.3">BioA<tspan font-size="22.4" dy="-19.4" dx="1">F393A</tspan></text>
<line x1="1880.6" y1="301.5" x2="1930.2" y2="301.5" stroke="#68189B" stroke-width="4.6"/>
<circle cx="1905.4" cy="301.5" r="6.5" fill="#68189B"/>
<text transform="translate(1957.1 318.5) scale(1 1)" font-size="44.3">BioA<tspan font-size="22.4" dy="-19.4" dx="1">Y398A</tspan></text>
<line x1="1880.6" y1="361" x2="1930.2" y2="361" stroke="#333333" stroke-width="4.6"/>
<circle cx="1905.4" cy="361" r="6.5" fill="#333333"/>
<text transform="translate(1957.1 376.3) scale(1 1)" font-size="44.3">BioA</text>
</g>
<g id="panel-c">
<g id="c-day14">
<path d="M278.3 1155.3 L285.6 1155.3 L292.8 1155.3 L300.1 1155.3 L307.4 1155.3 L314.6 1155.3 L321.9 1155.3 L329.2 1155.3 L336.4 1155.3 L343.7 1155.3 L351 1155.3 L358.2 1155.2 L365.5 1155.2 L372.8 1155.2 L380 1155.1 L387.3 1155 L394.6 1154.9 L401.8 1154.7 L409.1 1154.3 L416.4 1153.8 L423.6 1153.1 L430.9 1152 L438.2 1150.5 L445.4 1148.1 L452.7 1144.6 L460 1139.6 L467.2 1132.3 L474.5 1122 L481.8 1107.8 L489 1088.7 L496.3 1064.3 L503.6 1034.8 L510.8 1001.4 L518.1 966.4 L525.4 932.6 L532.6 902.2 L539.9 876.9 L547.2 856.9 L554.4 841.8 L561.7 830.9 L569 823.1 L576.2 817.7 L583.5 814 L590.8 811.5 L598 809.7 L605.3 808.6 L612.5 807.8 L619.8 807.3 L627.1 806.9 L634.3 806.7 L641.6 806.6 L648.9 806.4 L656.1 806.4 L663.4 806.3 L670.7 806.3 L677.9 806.3 L685.2 806.3 L692.5 806.3 L699.7 806.2 L707 806.2 L714.3 806.2 L721.5 806.2 L728.8 806.2 L736.1 806.2 L743.3 806.2 L750.6 806.2 L757.9 806.2 L765.1 806.2 L772.4 806.2 L779.7 806.2 L786.9 806.2" fill="none" stroke="#980C0C" stroke-width="1.8" stroke-linejoin="round"/>
<path d="M278.3 1153.2V1155.7" stroke="#980C0C" stroke-width="1.6"/>
<path d="M273.6 1153.2h9.5M273.6 1155.7h9.5" stroke="#980C0C" stroke-width="2.1"/>
<path d="M308.2 1141V1158.8" stroke="#980C0C" stroke-width="1.6"/>
<path d="M303.5 1141h9.5M303.5 1158.8h9.5" stroke="#980C0C" stroke-width="2.1"/>
<path d="M338.1 1143.7V1159.2" stroke="#980C0C" stroke-width="1.6"/>
<path d="M333.4 1143.7h9.5M333.4 1159.2h9.5" stroke="#980C0C" stroke-width="2.1"/>
<path d="M368.1 1150.5V1156.9" stroke="#980C0C" stroke-width="1.6"/>
<path d="M363.3 1150.5h9.5M363.3 1156.9h9.5" stroke="#980C0C" stroke-width="2.1"/>
<path d="M398 1150.2V1157.6" stroke="#980C0C" stroke-width="1.6"/>
<path d="M393.2 1150.2h9.5M393.2 1157.6h9.5" stroke="#980C0C" stroke-width="2.1"/>
<path d="M427.9 1143.6V1156.5" stroke="#980C0C" stroke-width="1.6"/>
<path d="M423.2 1143.6h9.5M423.2 1156.5h9.5" stroke="#980C0C" stroke-width="2.1"/>
<path d="M457.8 1143.2V1160.3" stroke="#980C0C" stroke-width="1.6"/>
<path d="M453.1 1143.2h9.5M453.1 1160.3h9.5" stroke="#980C0C" stroke-width="2.1"/>
<path d="M487.7 1109.2V1135" stroke="#980C0C" stroke-width="1.6"/>
<path d="M483 1109.2h9.5M483 1135h9.5" stroke="#980C0C" stroke-width="2.1"/>
<path d="M517.7 982.3V1015.6" stroke="#980C0C" stroke-width="1.6"/>
<path d="M512.9 982.3h9.5M512.9 1015.6h9.5" stroke="#980C0C" stroke-width="2.1"/>
<path d="M547.6 780.6V844.7" stroke="#980C0C" stroke-width="1.6"/>
<path d="M542.8 780.6h9.5M542.8 844.7h9.5" stroke="#980C0C" stroke-width="2.1"/>
<path d="M577.5 781.9V831.8" stroke="#980C0C" stroke-width="1.6"/>
<path d="M572.8 781.9h9.5M572.8 831.8h9.5" stroke="#980C0C" stroke-width="2.1"/>
<path d="M607.4 778V810.8" stroke="#980C0C" stroke-width="1.6"/>
<path d="M602.7 778h9.5M602.7 810.8h9.5" stroke="#980C0C" stroke-width="2.1"/>
<path d="M637.3 786.3V804.8" stroke="#980C0C" stroke-width="1.6"/>
<path d="M632.6 786.3h9.5M632.6 804.8h9.5" stroke="#980C0C" stroke-width="2.1"/>
<path d="M667.3 788.2V823.6" stroke="#980C0C" stroke-width="1.6"/>
<path d="M662.5 788.2h9.5M662.5 823.6h9.5" stroke="#980C0C" stroke-width="2.1"/>
<path d="M697.2 799.5V830.2" stroke="#980C0C" stroke-width="1.6"/>
<path d="M692.4 799.5h9.5M692.4 830.2h9.5" stroke="#980C0C" stroke-width="2.1"/>
<path d="M727.1 776.8V818.9" stroke="#980C0C" stroke-width="1.6"/>
<path d="M722.4 776.8h9.5M722.4 818.9h9.5" stroke="#980C0C" stroke-width="2.1"/>
<path d="M757 781V836.7" stroke="#980C0C" stroke-width="1.6"/>
<path d="M752.3 781h9.5M752.3 836.7h9.5" stroke="#980C0C" stroke-width="2.1"/>
<path d="M786.9 782.2V812" stroke="#980C0C" stroke-width="1.6"/>
<path d="M782.2 782.2h9.5M782.2 812h9.5" stroke="#980C0C" stroke-width="2.1"/>
<circle cx="278.3" cy="1154.5" r="4.5" fill="#980C0C"/>
<circle cx="308.2" cy="1149.9" r="4.5" fill="#980C0C"/>
<circle cx="338.1" cy="1151.4" r="4.5" fill="#980C0C"/>
<circle cx="368.1" cy="1153.7" r="4.5" fill="#980C0C"/>
<circle cx="398" cy="1153.9" r="4.5" fill="#980C0C"/>
<circle cx="427.9" cy="1150" r="4.5" fill="#980C0C"/>
<circle cx="457.8" cy="1152.2" r="4.5" fill="#980C0C"/>
<circle cx="487.7" cy="1122.1" r="4.5" fill="#980C0C"/>
<circle cx="517.7" cy="999" r="4.5" fill="#980C0C"/>
<circle cx="547.6" cy="812.7" r="4.5" fill="#980C0C"/>
<circle cx="577.5" cy="806.8" r="4.5" fill="#980C0C"/>
<circle cx="607.4" cy="794.4" r="4.5" fill="#980C0C"/>
<circle cx="637.3" cy="795.6" r="4.5" fill="#980C0C"/>
<circle cx="667.3" cy="805.9" r="4.5" fill="#980C0C"/>
<circle cx="697.2" cy="814.8" r="4.5" fill="#980C0C"/>
<circle cx="727.1" cy="797.8" r="4.5" fill="#980C0C"/>
<circle cx="757" cy="808.8" r="4.5" fill="#980C0C"/>
<circle cx="786.9" cy="797.1" r="4.5" fill="#980C0C"/>
</g>
<g id="c-day13">
<path d="M278.3 1157.2 L285.6 1157.2 L292.8 1157.2 L300.1 1157.2 L307.4 1157.2 L314.6 1157.2 L321.9 1157.2 L329.2 1157.2 L336.4 1157.2 L343.7 1157.2 L351 1157.2 L358.2 1157.2 L365.5 1157.2 L372.8 1157.2 L380 1157.2 L387.3 1157.2 L394.6 1157.1 L401.8 1157.1 L409.1 1156.9 L416.4 1156.8 L423.6 1156.5 L430.9 1156.1 L438.2 1155.4 L445.4 1154.4 L452.7 1152.7 L460 1150.2 L467.2 1146.3 L474.5 1140.3 L481.8 1131.3 L489 1118.1 L496.3 1099.3 L503.6 1074 L510.8 1042 L518.1 1004.6 L525.4 965 L532.6 927 L539.9 893.8 L547.2 867.3 L554.4 847.5 L561.7 833.4 L569 823.8 L576.2 817.3 L583.5 813.1 L590.8 810.4 L598 808.6 L605.3 807.5 L612.5 806.7 L619.8 806.3 L627.1 806 L634.3 805.8 L641.6 805.7 L648.9 805.6 L656.1 805.5 L663.4 805.5 L670.7 805.5 L677.9 805.5 L685.2 805.5 L692.5 805.5 L699.7 805.5 L707 805.5 L714.3 805.5 L721.5 805.5 L728.8 805.5 L736.1 805.5 L743.3 805.5 L750.6 805.5 L757.9 805.5 L765.1 805.5 L772.4 805.5 L779.7 805.5 L786.9 805.5" fill="none" stroke="#F05252" stroke-width="2" stroke-linejoin="round"/>
<path d="M278.3 1149.5V1159.5" stroke="#F05252" stroke-width="1.6"/>
<path d="M273.6 1149.5h9.5M273.6 1159.5h9.5" stroke="#F05252" stroke-width="2.1"/>
<path d="M308.2 1149.9V1159.1" stroke="#F05252" stroke-width="1.6"/>
<path d="M303.5 1149.9h9.5M303.5 1159.1h9.5" stroke="#F05252" stroke-width="2.1"/>
<path d="M338.1 1154.9V1158" stroke="#F05252" stroke-width="1.6"/>
<path d="M333.4 1154.9h9.5M333.4 1158h9.5" stroke="#F05252" stroke-width="2.1"/>
<path d="M368.1 1155.6V1158.3" stroke="#F05252" stroke-width="1.6"/>
<path d="M363.3 1155.6h9.5M363.3 1158.3h9.5" stroke="#F05252" stroke-width="2.1"/>
<path d="M398 1150.5V1158" stroke="#F05252" stroke-width="1.6"/>
<path d="M393.2 1150.5h9.5M393.2 1158h9.5" stroke="#F05252" stroke-width="2.1"/>
<path d="M427.9 1151.1V1155.4" stroke="#F05252" stroke-width="1.6"/>
<path d="M423.2 1151.1h9.5M423.2 1155.4h9.5" stroke="#F05252" stroke-width="2.1"/>
<path d="M457.8 1149.7V1156.7" stroke="#F05252" stroke-width="1.6"/>
<path d="M453.1 1149.7h9.5M453.1 1156.7h9.5" stroke="#F05252" stroke-width="2.1"/>
<path d="M487.7 1102.6V1133.4" stroke="#F05252" stroke-width="1.6"/>
<path d="M483 1102.6h9.5M483 1133.4h9.5" stroke="#F05252" stroke-width="2.1"/>
<path d="M517.7 967.2V990.4" stroke="#F05252" stroke-width="1.6"/>
<path d="M512.9 967.2h9.5M512.9 990.4h9.5" stroke="#F05252" stroke-width="2.1"/>
<path d="M547.6 849.6V900.7" stroke="#F05252" stroke-width="1.6"/>
<path d="M542.8 849.6h9.5M542.8 900.7h9.5" stroke="#F05252" stroke-width="2.1"/>
<path d="M577.5 791.8V841.7" stroke="#F05252" stroke-width="1.6"/>
<path d="M572.8 791.8h9.5M572.8 841.7h9.5" stroke="#F05252" stroke-width="2.1"/>
<path d="M607.4 769.1V791.5" stroke="#F05252" stroke-width="1.6"/>
<path d="M602.7 769.1h9.5M602.7 791.5h9.5" stroke="#F05252" stroke-width="2.1"/>
<path d="M637.3 784.3V818.1" stroke="#F05252" stroke-width="1.6"/>
<path d="M632.6 784.3h9.5M632.6 818.1h9.5" stroke="#F05252" stroke-width="2.1"/>
<path d="M667.3 790.8V806.9" stroke="#F05252" stroke-width="1.6"/>
<path d="M662.5 790.8h9.5M662.5 806.9h9.5" stroke="#F05252" stroke-width="2.1"/>
<path d="M697.2 788V830.6" stroke="#F05252" stroke-width="1.6"/>
<path d="M692.4 788h9.5M692.4 830.6h9.5" stroke="#F05252" stroke-width="2.1"/>
<path d="M727.1 792.8V827.6" stroke="#F05252" stroke-width="1.6"/>
<path d="M722.4 792.8h9.5M722.4 827.6h9.5" stroke="#F05252" stroke-width="2.1"/>
<path d="M757 778.7V811.5" stroke="#F05252" stroke-width="1.6"/>
<path d="M752.3 778.7h9.5M752.3 811.5h9.5" stroke="#F05252" stroke-width="2.1"/>
<path d="M786.9 798.6V821.1" stroke="#F05252" stroke-width="1.6"/>
<path d="M782.2 798.6h9.5M782.2 821.1h9.5" stroke="#F05252" stroke-width="2.1"/>
<circle cx="278.3" cy="1154.5" r="4.5" fill="#F05252"/>
<circle cx="308.2" cy="1154.5" r="4.5" fill="#F05252"/>
<circle cx="338.1" cy="1156.5" r="4.5" fill="#F05252"/>
<circle cx="368.1" cy="1157" r="4.5" fill="#F05252"/>
<circle cx="398" cy="1154.2" r="4.5" fill="#F05252"/>
<circle cx="427.9" cy="1153.2" r="4.5" fill="#F05252"/>
<circle cx="457.8" cy="1153.2" r="4.5" fill="#F05252"/>
<circle cx="487.7" cy="1118" r="4.5" fill="#F05252"/>
<circle cx="517.7" cy="978.8" r="4.5" fill="#F05252"/>
<circle cx="547.6" cy="875.1" r="4.5" fill="#F05252"/>
<circle cx="577.5" cy="816.7" r="4.5" fill="#F05252"/>
<circle cx="607.4" cy="780.3" r="4.5" fill="#F05252"/>
<circle cx="637.3" cy="801.2" r="4.5" fill="#F05252"/>
<circle cx="667.3" cy="798.9" r="4.5" fill="#F05252"/>
<circle cx="697.2" cy="809.3" r="4.5" fill="#F05252"/>
<circle cx="727.1" cy="810.2" r="4.5" fill="#F05252"/>
<circle cx="757" cy="795.1" r="4.5" fill="#F05252"/>
<circle cx="786.9" cy="809.8" r="4.5" fill="#F05252"/>
</g>
<g id="c-day12">
<path d="M278.3 1156.1 L285.6 1156.1 L292.8 1156.1 L300.1 1156.1 L307.4 1156.1 L314.6 1156.1 L321.9 1156.1 L329.2 1156.1 L336.4 1156.1 L343.7 1156.1 L351 1156.1 L358.2 1156.1 L365.5 1156.1 L372.8 1156.1 L380 1156.1 L387.3 1156.1 L394.6 1156.1 L401.8 1156.1 L409.1 1156.1 L416.4 1156.1 L423.6 1156.1 L430.9 1156 L438.2 1155.9 L445.4 1155.7 L452.7 1155.3 L460 1154.2 L467.2 1151.7 L474.5 1146.2 L481.8 1134.1 L489 1109.1 L496.3 1063.7 L503.6 997.3 L510.8 925.8 L518.1 870.1 L525.4 836.7 L532.6 819.7 L539.9 811.8 L547.2 808.2 L554.4 806.7 L561.7 806 L569 805.7 L576.2 805.6 L583.5 805.5 L590.8 805.5 L598 805.5 L605.3 805.5 L612.5 805.5 L619.8 805.5 L627.1 805.5 L634.3 805.5 L641.6 805.5 L648.9 805.5 L656.1 805.5 L663.4 805.5 L670.7 805.5 L677.9 805.5 L685.2 805.5 L692.5 805.5 L699.7 805.5 L707 805.5 L714.3 805.5 L721.5 805.5 L728.8 805.5 L736.1 805.5 L743.3 805.5 L750.6 805.5 L757.9 805.5 L765.1 805.5 L772.4 805.5 L779.7 805.5 L786.9 805.5" fill="none" stroke="#0A0A80" stroke-width="2.2" stroke-linejoin="round"/>
<path d="M278.3 1152.4V1156.3" stroke="#0A0A80" stroke-width="1.6"/>
<path d="M273.6 1152.4h9.5M273.6 1156.3h9.5" stroke="#0A0A80" stroke-width="2.1"/>
<path d="M308.2 1152V1160.3" stroke="#0A0A80" stroke-width="1.6"/>
<path d="M303.5 1152h9.5M303.5 1160.3h9.5" stroke="#0A0A80" stroke-width="2.1"/>
<path d="M338.1 1149.9V1157.5" stroke="#0A0A80" stroke-width="1.6"/>
<path d="M333.4 1149.9h9.5M333.4 1157.5h9.5" stroke="#0A0A80" stroke-width="2.1"/>
<path d="M368.1 1148.1V1156.6" stroke="#0A0A80" stroke-width="1.6"/>
<path d="M363.3 1148.1h9.5M363.3 1156.6h9.5" stroke="#0A0A80" stroke-width="2.1"/>
<path d="M398 1150V1154.7" stroke="#0A0A80" stroke-width="1.6"/>
<path d="M393.2 1150h9.5M393.2 1154.7h9.5" stroke="#0A0A80" stroke-width="2.1"/>
<path d="M427.9 1145.4V1158.4" stroke="#0A0A80" stroke-width="1.6"/>
<path d="M423.2 1145.4h9.5M423.2 1158.4h9.5" stroke="#0A0A80" stroke-width="2.1"/>
<path d="M457.8 1139.1V1147.8" stroke="#0A0A80" stroke-width="1.6"/>
<path d="M453.1 1139.1h9.5M453.1 1147.8h9.5" stroke="#0A0A80" stroke-width="2.1"/>
<path d="M487.7 1125.8V1154.9" stroke="#0A0A80" stroke-width="1.6"/>
<path d="M483 1125.8h9.5M483 1154.9h9.5" stroke="#0A0A80" stroke-width="2.1"/>
<path d="M517.7 811.3V927.4" stroke="#0A0A80" stroke-width="1.6"/>
<path d="M512.9 811.3h9.5M512.9 927.4h9.5" stroke="#0A0A80" stroke-width="2.1"/>
<path d="M547.6 811.3V877.1" stroke="#0A0A80" stroke-width="1.6"/>
<path d="M542.8 811.3h9.5M542.8 877.1h9.5" stroke="#0A0A80" stroke-width="2.1"/>
<path d="M577.5 801.2V902.6" stroke="#0A0A80" stroke-width="1.6"/>
<path d="M572.8 801.2h9.5M572.8 902.6h9.5" stroke="#0A0A80" stroke-width="2.1"/>
<path d="M607.4 798.3V817.9" stroke="#0A0A80" stroke-width="1.6"/>
<path d="M602.7 798.3h9.5M602.7 817.9h9.5" stroke="#0A0A80" stroke-width="2.1"/>
<path d="M637.3 775.9V809.3" stroke="#0A0A80" stroke-width="1.6"/>
<path d="M632.6 775.9h9.5M632.6 809.3h9.5" stroke="#0A0A80" stroke-width="2.1"/>
<path d="M667.3 783.3V804.2" stroke="#0A0A80" stroke-width="1.6"/>
<path d="M662.5 783.3h9.5M662.5 804.2h9.5" stroke="#0A0A80" stroke-width="2.1"/>
<path d="M697.2 781.9V826.5" stroke="#0A0A80" stroke-width="1.6"/>
<path d="M692.4 781.9h9.5M692.4 826.5h9.5" stroke="#0A0A80" stroke-width="2.1"/>
<path d="M727.1 802.6V826.7" stroke="#0A0A80" stroke-width="1.6"/>
<path d="M722.4 802.6h9.5M722.4 826.7h9.5" stroke="#0A0A80" stroke-width="2.1"/>
<path d="M757 769.5V823.8" stroke="#0A0A80" stroke-width="1.6"/>
<path d="M752.3 769.5h9.5M752.3 823.8h9.5" stroke="#0A0A80" stroke-width="2.1"/>
<path d="M786.9 778.7V799.1" stroke="#0A0A80" stroke-width="1.6"/>
<path d="M782.2 778.7h9.5M782.2 799.1h9.5" stroke="#0A0A80" stroke-width="2.1"/>
<circle cx="278.3" cy="1154.4" r="4.5" fill="#0A0A80"/>
<circle cx="308.2" cy="1156.4" r="4.5" fill="#0A0A80"/>
<circle cx="338.1" cy="1153.7" r="4.5" fill="#0A0A80"/>
<circle cx="368.1" cy="1152.4" r="4.5" fill="#0A0A80"/>
<circle cx="398" cy="1152.3" r="4.5" fill="#0A0A80"/>
<circle cx="427.9" cy="1151.9" r="4.5" fill="#0A0A80"/>
<circle cx="457.8" cy="1143.5" r="4.5" fill="#0A0A80"/>
<circle cx="487.7" cy="1140.4" r="4.5" fill="#0A0A80"/>
<circle cx="517.7" cy="869.3" r="4.5" fill="#0A0A80"/>
<circle cx="547.6" cy="844.2" r="4.5" fill="#0A0A80"/>
<circle cx="577.5" cy="851.9" r="4.5" fill="#0A0A80"/>
<circle cx="607.4" cy="808.1" r="4.5" fill="#0A0A80"/>
<circle cx="637.3" cy="792.6" r="4.5" fill="#0A0A80"/>
<circle cx="667.3" cy="793.7" r="4.5" fill="#0A0A80"/>
<circle cx="697.2" cy="804.2" r="4.5" fill="#0A0A80"/>
<circle cx="727.1" cy="814.7" r="4.5" fill="#0A0A80"/>
<circle cx="757" cy="796.6" r="4.5" fill="#0A0A80"/>
<circle cx="786.9" cy="788.9" r="4.5" fill="#0A0A80"/>
</g>
<g id="c-day11">
<path d="M278.3 1157.6 L285.6 1157.6 L292.8 1157.6 L300.1 1157.6 L307.4 1157.6 L314.6 1157.6 L321.9 1157.6 L329.2 1157.6 L336.4 1157.6 L343.7 1157.6 L351 1157.6 L358.2 1157.6 L365.5 1157.6 L372.8 1157.6 L380 1157.6 L387.3 1157.6 L394.6 1157.6 L401.8 1157.6 L409.1 1157.6 L416.4 1157.6 L423.6 1157.6 L430.9 1157.6 L438.2 1157.5 L445.4 1157.3 L452.7 1156.9 L460 1155.8 L467.2 1153.2 L474.5 1147.3 L481.8 1133.9 L489 1105.7 L496.3 1054.3 L503.6 981.2 L510.8 907.3 L518.1 854 L525.4 824.4 L532.6 810.2 L539.9 803.9 L547.2 801.2 L554.4 800.1 L561.7 799.6 L569 799.4 L576.2 799.3 L583.5 799.3 L590.8 799.3 L598 799.3 L605.3 799.3 L612.5 799.3 L619.8 799.3 L627.1 799.3 L634.3 799.3 L641.6 799.3 L648.9 799.3 L656.1 799.3 L663.4 799.3 L670.7 799.3 L677.9 799.3 L685.2 799.3 L692.5 799.3 L699.7 799.3 L707 799.3 L714.3 799.3 L721.5 799.3 L728.8 799.3 L736.1 799.3 L743.3 799.3 L750.6 799.3 L757.9 799.3 L765.1 799.3 L772.4 799.3 L779.7 799.3 L786.9 799.3" fill="none" stroke="#0B0BB0" stroke-width="2.2" stroke-linejoin="round"/>
<path d="M278.3 1151.9V1154.8" stroke="#0B0BB0" stroke-width="1.6"/>
<path d="M273.6 1151.9h9.5M273.6 1154.8h9.5" stroke="#0B0BB0" stroke-width="2.1"/>
<path d="M308.2 1151.1V1157.5" stroke="#0B0BB0" stroke-width="1.6"/>
<path d="M303.5 1151.1h9.5M303.5 1157.5h9.5" stroke="#0B0BB0" stroke-width="2.1"/>
<path d="M338.1 1145.9V1157.5" stroke="#0B0BB0" stroke-width="1.6"/>
<path d="M333.4 1145.9h9.5M333.4 1157.5h9.5" stroke="#0B0BB0" stroke-width="2.1"/>
<path d="M368.1 1152.4V1159.5" stroke="#0B0BB0" stroke-width="1.6"/>
<path d="M363.3 1152.4h9.5M363.3 1159.5h9.5" stroke="#0B0BB0" stroke-width="2.1"/>
<path d="M398 1153.5V1160.2" stroke="#0B0BB0" stroke-width="1.6"/>
<path d="M393.2 1153.5h9.5M393.2 1160.2h9.5" stroke="#0B0BB0" stroke-width="2.1"/>
<path d="M427.9 1144.2V1158.4" stroke="#0B0BB0" stroke-width="1.6"/>
<path d="M423.2 1144.2h9.5M423.2 1158.4h9.5" stroke="#0B0BB0" stroke-width="2.1"/>
<path d="M457.8 1144.9V1153.6" stroke="#0B0BB0" stroke-width="1.6"/>
<path d="M453.1 1144.9h9.5M453.1 1153.6h9.5" stroke="#0B0BB0" stroke-width="2.1"/>
<path d="M487.7 1134.6V1156.7" stroke="#0B0BB0" stroke-width="1.6"/>
<path d="M483 1134.6h9.5M483 1156.7h9.5" stroke="#0B0BB0" stroke-width="2.1"/>
<path d="M517.7 800.4V928.9" stroke="#0B0BB0" stroke-width="1.6"/>
<path d="M512.9 800.4h9.5M512.9 928.9h9.5" stroke="#0B0BB0" stroke-width="2.1"/>
<path d="M547.6 761.7V806.6" stroke="#0B0BB0" stroke-width="1.6"/>
<path d="M542.8 761.7h9.5M542.8 806.6h9.5" stroke="#0B0BB0" stroke-width="2.1"/>
<path d="M577.5 783V827.9" stroke="#0B0BB0" stroke-width="1.6"/>
<path d="M572.8 783h9.5M572.8 827.9h9.5" stroke="#0B0BB0" stroke-width="2.1"/>
<path d="M607.4 781.9V811.1" stroke="#0B0BB0" stroke-width="1.6"/>
<path d="M602.7 781.9h9.5M602.7 811.1h9.5" stroke="#0B0BB0" stroke-width="2.1"/>
<path d="M637.3 764.8V815.1" stroke="#0B0BB0" stroke-width="1.6"/>
<path d="M632.6 764.8h9.5M632.6 815.1h9.5" stroke="#0B0BB0" stroke-width="2.1"/>
<path d="M667.3 789V835.6" stroke="#0B0BB0" stroke-width="1.6"/>
<path d="M662.5 789h9.5M662.5 835.6h9.5" stroke="#0B0BB0" stroke-width="2.1"/>
<path d="M697.2 793.2V830.4" stroke="#0B0BB0" stroke-width="1.6"/>
<path d="M692.4 793.2h9.5M692.4 830.4h9.5" stroke="#0B0BB0" stroke-width="2.1"/>
<path d="M727.1 796.4V820.3" stroke="#0B0BB0" stroke-width="1.6"/>
<path d="M722.4 796.4h9.5M722.4 820.3h9.5" stroke="#0B0BB0" stroke-width="2.1"/>
<path d="M757 783.7V817.8" stroke="#0B0BB0" stroke-width="1.6"/>
<path d="M752.3 783.7h9.5M752.3 817.8h9.5" stroke="#0B0BB0" stroke-width="2.1"/>
<path d="M786.9 788.4V821.5" stroke="#0B0BB0" stroke-width="1.6"/>
<path d="M782.2 788.4h9.5M782.2 821.5h9.5" stroke="#0B0BB0" stroke-width="2.1"/>
<circle cx="278.3" cy="1153.4" r="4.5" fill="#0B0BB0"/>
<circle cx="308.2" cy="1154.3" r="4.5" fill="#0B0BB0"/>
<circle cx="338.1" cy="1151.7" r="4.5" fill="#0B0BB0"/>
<circle cx="368.1" cy="1156" r="4.5" fill="#0B0BB0"/>
<circle cx="398" cy="1156.8" r="4.5" fill="#0B0BB0"/>
<circle cx="427.9" cy="1151.3" r="4.5" fill="#0B0BB0"/>
<circle cx="457.8" cy="1149.2" r="4.5" fill="#0B0BB0"/>
<circle cx="487.7" cy="1145.6" r="4.5" fill="#0B0BB0"/>
<circle cx="517.7" cy="864.7" r="4.5" fill="#0B0BB0"/>
<circle cx="547.6" cy="784.2" r="4.5" fill="#0B0BB0"/>
<circle cx="577.5" cy="805.5" r="4.5" fill="#0B0BB0"/>
<circle cx="607.4" cy="796.5" r="4.5" fill="#0B0BB0"/>
<circle cx="637.3" cy="790" r="4.5" fill="#0B0BB0"/>
<circle cx="667.3" cy="812.3" r="4.5" fill="#0B0BB0"/>
<circle cx="697.2" cy="811.8" r="4.5" fill="#0B0BB0"/>
<circle cx="727.1" cy="808.3" r="4.5" fill="#0B0BB0"/>
<circle cx="757" cy="800.8" r="4.5" fill="#0B0BB0"/>
<circle cx="786.9" cy="805" r="4.5" fill="#0B0BB0"/>
</g>
<g id="c-day10">
<path d="M278.3 1156.9 L285.6 1156.9 L292.8 1156.9 L300.1 1156.9 L307.4 1156.9 L314.6 1156.9 L321.9 1156.9 L329.2 1156.9 L336.4 1156.9 L343.7 1156.9 L351 1156.9 L358.2 1156.9 L365.5 1156.9 L372.8 1156.8 L380 1156.8 L387.3 1156.8 L394.6 1156.8 L401.8 1156.8 L409.1 1156.7 L416.4 1156.6 L423.6 1156.5 L430.9 1156.2 L438.2 1155.7 L445.4 1154.8 L452.7 1153.3 L460 1150.8 L467.2 1146.5 L474.5 1139.1 L481.8 1127.2 L489 1108.2 L496.3 1080 L503.6 1041.7 L510.8 995.3 L518.1 946.6 L525.4 902.5 L532.6 867.6 L539.9 842.8 L547.2 826.5 L554.4 816.4 L561.7 810.2 L569 806.6 L576.2 804.5 L583.5 803.3 L590.8 802.6 L598 802.1 L605.3 801.9 L612.5 801.8 L619.8 801.7 L627.1 801.7 L634.3 801.6 L641.6 801.6 L648.9 801.6 L656.1 801.6 L663.4 801.6 L670.7 801.6 L677.9 801.6 L685.2 801.6 L692.5 801.6 L699.7 801.6 L707 801.6 L714.3 801.6 L721.5 801.6 L728.8 801.6 L736.1 801.6 L743.3 801.6 L750.6 801.6 L757.9 801.6 L765.1 801.6 L772.4 801.6 L779.7 801.6 L786.9 801.6" fill="none" stroke="#1515DD" stroke-width="1.4" stroke-linejoin="round"/>
<path d="M278.3 1149.6V1159.2" stroke="#1515DD" stroke-width="1.6"/>
<path d="M273.6 1149.6h9.5M273.6 1159.2h9.5" stroke="#1515DD" stroke-width="2.1"/>
<path d="M308.2 1147.8V1157.1" stroke="#1515DD" stroke-width="1.6"/>
<path d="M303.5 1147.8h9.5M303.5 1157.1h9.5" stroke="#1515DD" stroke-width="2.1"/>
<path d="M338.1 1148.1V1155.4" stroke="#1515DD" stroke-width="1.6"/>
<path d="M333.4 1148.1h9.5M333.4 1155.4h9.5" stroke="#1515DD" stroke-width="2.1"/>
<path d="M368.1 1150.2V1153.3" stroke="#1515DD" stroke-width="1.6"/>
<path d="M363.3 1150.2h9.5M363.3 1153.3h9.5" stroke="#1515DD" stroke-width="2.1"/>
<path d="M398 1152.4V1160.1" stroke="#1515DD" stroke-width="1.6"/>
<path d="M393.2 1152.4h9.5M393.2 1160.1h9.5" stroke="#1515DD" stroke-width="2.1"/>
<path d="M427.9 1149.4V1160.3" stroke="#1515DD" stroke-width="1.6"/>
<path d="M423.2 1149.4h9.5M423.2 1160.3h9.5" stroke="#1515DD" stroke-width="2.1"/>
<path d="M457.8 1124.7V1149.5" stroke="#1515DD" stroke-width="1.6"/>
<path d="M453.1 1124.7h9.5M453.1 1149.5h9.5" stroke="#1515DD" stroke-width="2.1"/>
<path d="M487.7 1120.9V1144.1" stroke="#1515DD" stroke-width="1.6"/>
<path d="M483 1120.9h9.5M483 1144.1h9.5" stroke="#1515DD" stroke-width="2.1"/>
<path d="M517.7 949.6V979.8" stroke="#1515DD" stroke-width="1.6"/>
<path d="M512.9 949.6h9.5M512.9 979.8h9.5" stroke="#1515DD" stroke-width="2.1"/>
<path d="M547.6 783.7V848.8" stroke="#1515DD" stroke-width="1.6"/>
<path d="M542.8 783.7h9.5M542.8 848.8h9.5" stroke="#1515DD" stroke-width="2.1"/>
<path d="M577.5 801.1V854" stroke="#1515DD" stroke-width="1.6"/>
<path d="M572.8 801.1h9.5M572.8 854h9.5" stroke="#1515DD" stroke-width="2.1"/>
<path d="M607.4 770V807.8" stroke="#1515DD" stroke-width="1.6"/>
<path d="M602.7 770h9.5M602.7 807.8h9.5" stroke="#1515DD" stroke-width="2.1"/>
<path d="M637.3 787.6V811.6" stroke="#1515DD" stroke-width="1.6"/>
<path d="M632.6 787.6h9.5M632.6 811.6h9.5" stroke="#1515DD" stroke-width="2.1"/>
<path d="M667.3 782.2V819.1" stroke="#1515DD" stroke-width="1.6"/>
<path d="M662.5 782.2h9.5M662.5 819.1h9.5" stroke="#1515DD" stroke-width="2.1"/>
<path d="M697.2 790.4V807.1" stroke="#1515DD" stroke-width="1.6"/>
<path d="M692.4 790.4h9.5M692.4 807.1h9.5" stroke="#1515DD" stroke-width="2.1"/>
<path d="M727.1 770.2V807.6" stroke="#1515DD" stroke-width="1.6"/>
<path d="M722.4 770.2h9.5M722.4 807.6h9.5" stroke="#1515DD" stroke-width="2.1"/>
<path d="M757 779.5V829.1" stroke="#1515DD" stroke-width="1.6"/>
<path d="M752.3 779.5h9.5M752.3 829.1h9.5" stroke="#1515DD" stroke-width="2.1"/>
<path d="M786.9 781.7V818.1" stroke="#1515DD" stroke-width="1.6"/>
<path d="M782.2 781.7h9.5M782.2 818.1h9.5" stroke="#1515DD" stroke-width="2.1"/>
<circle cx="278.3" cy="1154.4" r="4.5" fill="#1515DD"/>
<circle cx="308.2" cy="1152.4" r="4.5" fill="#1515DD"/>
<circle cx="338.1" cy="1151.8" r="4.5" fill="#1515DD"/>
<circle cx="368.1" cy="1151.8" r="4.5" fill="#1515DD"/>
<circle cx="398" cy="1156.3" r="4.5" fill="#1515DD"/>
<circle cx="427.9" cy="1155.4" r="4.5" fill="#1515DD"/>
<circle cx="457.8" cy="1137.1" r="4.5" fill="#1515DD"/>
<circle cx="487.7" cy="1132.5" r="4.5" fill="#1515DD"/>
<circle cx="517.7" cy="964.7" r="4.5" fill="#1515DD"/>
<circle cx="547.6" cy="816.2" r="4.5" fill="#1515DD"/>
<circle cx="577.5" cy="827.6" r="4.5" fill="#1515DD"/>
<circle cx="607.4" cy="788.9" r="4.5" fill="#1515DD"/>
<circle cx="637.3" cy="799.6" r="4.5" fill="#1515DD"/>
<circle cx="667.3" cy="800.6" r="4.5" fill="#1515DD"/>
<circle cx="697.2" cy="798.7" r="4.5" fill="#1515DD"/>
<circle cx="727.1" cy="788.9" r="4.5" fill="#1515DD"/>
<circle cx="757" cy="804.3" r="4.5" fill="#1515DD"/>
<circle cx="786.9" cy="799.9" r="4.5" fill="#1515DD"/>
</g>
<g id="c-day9">
<path d="M278.3 1155.7 L285.6 1155.7 L292.8 1155.7 L300.1 1155.7 L307.4 1155.7 L314.6 1155.7 L321.9 1155.7 L329.2 1155.7 L336.4 1155.7 L343.7 1155.7 L351 1155.6 L358.2 1155.6 L365.5 1155.6 L372.8 1155.5 L380 1155.5 L387.3 1155.4 L394.6 1155.2 L401.8 1155 L409.1 1154.7 L416.4 1154.2 L423.6 1153.5 L430.9 1152.5 L438.2 1151 L445.4 1148.9 L452.7 1145.8 L460 1141.3 L467.2 1134.9 L474.5 1126 L481.8 1113.6 L489 1097 L496.3 1075.6 L503.6 1049.1 L510.8 1018.2 L518.1 984.4 L525.4 950 L532.6 917.5 L539.9 888.8 L547.2 865 L554.4 846.2 L561.7 832 L569 821.5 L576.2 814 L583.5 808.8 L590.8 805.1 L598 802.5 L605.3 800.7 L612.5 799.5 L619.8 798.7 L627.1 798.1 L634.3 797.8 L641.6 797.5 L648.9 797.3 L656.1 797.2 L663.4 797.1 L670.7 797.1 L677.9 797 L685.2 797 L692.5 797 L699.7 797 L707 797 L714.3 797 L721.5 797 L728.8 797 L736.1 796.9 L743.3 796.9 L750.6 796.9 L757.9 796.9 L765.1 796.9 L772.4 796.9 L779.7 796.9 L786.9 796.9" fill="none" stroke="#5C9CEB" stroke-width="2.4" stroke-linejoin="round"/>
<path d="M278.3 1151.3V1159.3" stroke="#5C9CEB" stroke-width="1.6"/>
<path d="M273.6 1151.3h9.5M273.6 1159.3h9.5" stroke="#5C9CEB" stroke-width="2.1"/>
<path d="M308.2 1147V1157.4" stroke="#5C9CEB" stroke-width="1.6"/>
<path d="M303.5 1147h9.5M303.5 1157.4h9.5" stroke="#5C9CEB" stroke-width="2.1"/>
<path d="M338.1 1148.3V1155.3" stroke="#5C9CEB" stroke-width="1.6"/>
<path d="M333.4 1148.3h9.5M333.4 1155.3h9.5" stroke="#5C9CEB" stroke-width="2.1"/>
<path d="M368.1 1151.4V1155.8" stroke="#5C9CEB" stroke-width="1.6"/>
<path d="M363.3 1151.4h9.5M363.3 1155.8h9.5" stroke="#5C9CEB" stroke-width="2.1"/>
<path d="M398 1147.9V1158.4" stroke="#5C9CEB" stroke-width="1.6"/>
<path d="M393.2 1147.9h9.5M393.2 1158.4h9.5" stroke="#5C9CEB" stroke-width="2.1"/>
<path d="M427.9 1146.8V1158.5" stroke="#5C9CEB" stroke-width="1.6"/>
<path d="M423.2 1146.8h9.5M423.2 1158.5h9.5" stroke="#5C9CEB" stroke-width="2.1"/>
<path d="M457.8 1143.9V1160.3" stroke="#5C9CEB" stroke-width="1.6"/>
<path d="M453.1 1143.9h9.5M453.1 1160.3h9.5" stroke="#5C9CEB" stroke-width="2.1"/>
<path d="M487.7 1096.8V1127.2" stroke="#5C9CEB" stroke-width="1.6"/>
<path d="M483 1096.8h9.5M483 1127.2h9.5" stroke="#5C9CEB" stroke-width="2.1"/>
<path d="M517.7 922.5V968.5" stroke="#5C9CEB" stroke-width="1.6"/>
<path d="M512.9 922.5h9.5M512.9 968.5h9.5" stroke="#5C9CEB" stroke-width="2.1"/>
<path d="M547.6 817.1V894.5" stroke="#5C9CEB" stroke-width="1.6"/>
<path d="M542.8 817.1h9.5M542.8 894.5h9.5" stroke="#5C9CEB" stroke-width="2.1"/>
<path d="M577.5 782.2V906.1" stroke="#5C9CEB" stroke-width="1.6"/>
<path d="M572.8 782.2h9.5M572.8 906.1h9.5" stroke="#5C9CEB" stroke-width="2.1"/>
<path d="M607.4 795.8V830" stroke="#5C9CEB" stroke-width="1.6"/>
<path d="M602.7 795.8h9.5M602.7 830h9.5" stroke="#5C9CEB" stroke-width="2.1"/>
<path d="M637.3 776.1V824.3" stroke="#5C9CEB" stroke-width="1.6"/>
<path d="M632.6 776.1h9.5M632.6 824.3h9.5" stroke="#5C9CEB" stroke-width="2.1"/>
<path d="M667.3 793.6V810.3" stroke="#5C9CEB" stroke-width="1.6"/>
<path d="M662.5 793.6h9.5M662.5 810.3h9.5" stroke="#5C9CEB" stroke-width="2.1"/>
<path d="M697.2 784.1V802.3" stroke="#5C9CEB" stroke-width="1.6"/>
<path d="M692.4 784.1h9.5M692.4 802.3h9.5" stroke="#5C9CEB" stroke-width="2.1"/>
<path d="M727.1 782V804.9" stroke="#5C9CEB" stroke-width="1.6"/>
<path d="M722.4 782h9.5M722.4 804.9h9.5" stroke="#5C9CEB" stroke-width="2.1"/>
<path d="M757 781.5V830.6" stroke="#5C9CEB" stroke-width="1.6"/>
<path d="M752.3 781.5h9.5M752.3 830.6h9.5" stroke="#5C9CEB" stroke-width="2.1"/>
<path d="M786.9 800.4V822.2" stroke="#5C9CEB" stroke-width="1.6"/>
<path d="M782.2 800.4h9.5M782.2 822.2h9.5" stroke="#5C9CEB" stroke-width="2.1"/>
<circle cx="278.3" cy="1155.3" r="4.5" fill="#5C9CEB"/>
<circle cx="308.2" cy="1152.2" r="4.5" fill="#5C9CEB"/>
<circle cx="338.1" cy="1151.8" r="4.5" fill="#5C9CEB"/>
<circle cx="368.1" cy="1153.6" r="4.5" fill="#5C9CEB"/>
<circle cx="398" cy="1153.2" r="4.5" fill="#5C9CEB"/>
<circle cx="427.9" cy="1152.7" r="4.5" fill="#5C9CEB"/>
<circle cx="457.8" cy="1152.8" r="4.5" fill="#5C9CEB"/>
<circle cx="487.7" cy="1112" r="4.5" fill="#5C9CEB"/>
<circle cx="517.7" cy="945.5" r="4.5" fill="#5C9CEB"/>
<circle cx="547.6" cy="855.8" r="4.5" fill="#5C9CEB"/>
<circle cx="577.5" cy="844.2" r="4.5" fill="#5C9CEB"/>
<circle cx="607.4" cy="812.9" r="4.5" fill="#5C9CEB"/>
<circle cx="637.3" cy="800.2" r="4.5" fill="#5C9CEB"/>
<circle cx="667.3" cy="801.9" r="4.5" fill="#5C9CEB"/>
<circle cx="697.2" cy="793.2" r="4.5" fill="#5C9CEB"/>
<circle cx="727.1" cy="793.5" r="4.5" fill="#5C9CEB"/>
<circle cx="757" cy="806.1" r="4.5" fill="#5C9CEB"/>
<circle cx="786.9" cy="811.3" r="4.5" fill="#5C9CEB"/>
</g>
<g id="c-day8">
<path d="M278.3 1154.5 L285.6 1154.5 L292.8 1154.5 L300.1 1154.5 L307.4 1154.5 L314.6 1154.5 L321.9 1154.5 L329.2 1154.4 L336.4 1154.4 L343.7 1154.3 L351 1154.3 L358.2 1154.1 L365.5 1154 L372.8 1153.8 L380 1153.5 L387.3 1153.2 L394.6 1152.6 L401.8 1151.9 L409.1 1151 L416.4 1149.7 L423.6 1147.9 L430.9 1145.4 L438.2 1142.2 L445.4 1137.7 L452.7 1131.8 L460 1124 L467.2 1113.9 L474.5 1101 L481.8 1084.9 L489 1065.3 L496.3 1042.5 L503.6 1016.8 L510.8 989.3 L518.1 961.2 L525.4 933.9 L532.6 908.6 L539.9 886.3 L547.2 867.4 L554.4 851.9 L561.7 839.5 L569 829.8 L576.2 822.4 L583.5 816.7 L590.8 812.5 L598 809.4 L605.3 807.1 L612.5 805.4 L619.8 804.2 L627.1 803.3 L634.3 802.6 L641.6 802.1 L648.9 801.8 L656.1 801.5 L663.4 801.3 L670.7 801.2 L677.9 801.1 L685.2 801 L692.5 801 L699.7 800.9 L707 800.9 L714.3 800.9 L721.5 800.9 L728.8 800.8 L736.1 800.8 L743.3 800.8 L750.6 800.8 L757.9 800.8 L765.1 800.8 L772.4 800.8 L779.7 800.8 L786.9 800.8" fill="none" stroke="#8FB6EC" stroke-width="1.6" stroke-linejoin="round"/>
<path d="M278.3 1153.5V1156.1" stroke="#8FB6EC" stroke-width="1.6"/>
<path d="M273.6 1153.5h9.5M273.6 1156.1h9.5" stroke="#8FB6EC" stroke-width="2.1"/>
<path d="M308.2 1150.1V1154.8" stroke="#8FB6EC" stroke-width="1.6"/>
<path d="M303.5 1150.1h9.5M303.5 1154.8h9.5" stroke="#8FB6EC" stroke-width="2.1"/>
<path d="M338.1 1155.4V1158.2" stroke="#8FB6EC" stroke-width="1.6"/>
<path d="M333.4 1155.4h9.5M333.4 1158.2h9.5" stroke="#8FB6EC" stroke-width="2.1"/>
<path d="M368.1 1150.3V1157.1" stroke="#8FB6EC" stroke-width="1.6"/>
<path d="M363.3 1150.3h9.5M363.3 1157.1h9.5" stroke="#8FB6EC" stroke-width="2.1"/>
<path d="M398 1149.3V1158.2" stroke="#8FB6EC" stroke-width="1.6"/>
<path d="M393.2 1149.3h9.5M393.2 1158.2h9.5" stroke="#8FB6EC" stroke-width="2.1"/>
<path d="M427.9 1143.9V1158.8" stroke="#8FB6EC" stroke-width="1.6"/>
<path d="M423.2 1143.9h9.5M423.2 1158.8h9.5" stroke="#8FB6EC" stroke-width="2.1"/>
<path d="M457.8 1142.9V1149.9" stroke="#8FB6EC" stroke-width="1.6"/>
<path d="M453.1 1142.9h9.5M453.1 1149.9h9.5" stroke="#8FB6EC" stroke-width="2.1"/>
<path d="M487.7 981.2V1160.3" stroke="#8FB6EC" stroke-width="1.6"/>
<path d="M483 981.2h9.5M483 1160.3h9.5" stroke="#8FB6EC" stroke-width="2.1"/>
<path d="M517.7 983.5V1029.9" stroke="#8FB6EC" stroke-width="1.6"/>
<path d="M512.9 983.5h9.5M512.9 1029.9h9.5" stroke="#8FB6EC" stroke-width="2.1"/>
<path d="M547.6 791.5V943.2" stroke="#8FB6EC" stroke-width="1.6"/>
<path d="M542.8 791.5h9.5M542.8 943.2h9.5" stroke="#8FB6EC" stroke-width="2.1"/>
<path d="M577.5 807.2V842.5" stroke="#8FB6EC" stroke-width="1.6"/>
<path d="M572.8 807.2h9.5M572.8 842.5h9.5" stroke="#8FB6EC" stroke-width="2.1"/>
<path d="M607.4 777.4V815.1" stroke="#8FB6EC" stroke-width="1.6"/>
<path d="M602.7 777.4h9.5M602.7 815.1h9.5" stroke="#8FB6EC" stroke-width="2.1"/>
<path d="M637.3 774.7V822.3" stroke="#8FB6EC" stroke-width="1.6"/>
<path d="M632.6 774.7h9.5M632.6 822.3h9.5" stroke="#8FB6EC" stroke-width="2.1"/>
<path d="M667.3 779.9V829.1" stroke="#8FB6EC" stroke-width="1.6"/>
<path d="M662.5 779.9h9.5M662.5 829.1h9.5" stroke="#8FB6EC" stroke-width="2.1"/>
<path d="M697.2 754.4V810.1" stroke="#8FB6EC" stroke-width="1.6"/>
<path d="M692.4 754.4h9.5M692.4 810.1h9.5" stroke="#8FB6EC" stroke-width="2.1"/>
<path d="M727.1 766.8V813" stroke="#8FB6EC" stroke-width="1.6"/>
<path d="M722.4 766.8h9.5M722.4 813h9.5" stroke="#8FB6EC" stroke-width="2.1"/>
<path d="M757 758.2V814" stroke="#8FB6EC" stroke-width="1.6"/>
<path d="M752.3 758.2h9.5M752.3 814h9.5" stroke="#8FB6EC" stroke-width="2.1"/>
<path d="M786.9 771.1V825.3" stroke="#8FB6EC" stroke-width="1.6"/>
<path d="M782.2 771.1h9.5M782.2 825.3h9.5" stroke="#8FB6EC" stroke-width="2.1"/>
<circle cx="278.3" cy="1154.8" r="4.5" fill="#8FB6EC"/>
<circle cx="308.2" cy="1152.5" r="4.5" fill="#8FB6EC"/>
<circle cx="338.1" cy="1156.8" r="4.5" fill="#8FB6EC"/>
<circle cx="368.1" cy="1153.7" r="4.5" fill="#8FB6EC"/>
<circle cx="398" cy="1153.7" r="4.5" fill="#8FB6EC"/>
<circle cx="427.9" cy="1151.4" r="4.5" fill="#8FB6EC"/>
<circle cx="457.8" cy="1146.4" r="4.5" fill="#8FB6EC"/>
<circle cx="487.7" cy="1071.3" r="4.5" fill="#8FB6EC"/>
<circle cx="517.7" cy="1006.7" r="4.5" fill="#8FB6EC"/>
<circle cx="547.6" cy="867.4" r="4.5" fill="#8FB6EC"/>
<circle cx="577.5" cy="824.8" r="4.5" fill="#8FB6EC"/>
<circle cx="607.4" cy="796.2" r="4.5" fill="#8FB6EC"/>
<circle cx="637.3" cy="798.5" r="4.5" fill="#8FB6EC"/>
<circle cx="667.3" cy="804.5" r="4.5" fill="#8FB6EC"/>
<circle cx="697.2" cy="782.2" r="4.5" fill="#8FB6EC"/>
<circle cx="727.1" cy="789.9" r="4.5" fill="#8FB6EC"/>
<circle cx="757" cy="786.1" r="4.5" fill="#8FB6EC"/>
<circle cx="786.9" cy="798.2" r="4.5" fill="#8FB6EC"/>
</g>
<g id="c-day7">
<path d="M278.3 1154.1 L285.6 1154.1 L292.8 1154.1 L300.1 1154.1 L307.4 1154.1 L314.6 1154.1 L321.9 1154.1 L329.2 1154.1 L336.4 1154.1 L343.7 1154.1 L351 1154.1 L358.2 1154.1 L365.5 1154 L372.8 1153.9 L380 1153.9 L387.3 1153.7 L394.6 1153.5 L401.8 1153.3 L409.1 1152.9 L416.4 1152.3 L423.6 1151.5 L430.9 1150.3 L438.2 1148.7 L445.4 1146.3 L452.7 1142.8 L460 1138 L467.2 1131.3 L474.5 1122.1 L481.8 1109.6 L489 1093.1 L496.3 1072.2 L503.6 1046.9 L510.8 1017.6 L518.1 985.8 L525.4 953.5 L532.6 922.9 L539.9 895.6 L547.2 872.6 L554.4 854.1 L561.7 839.8 L569 829.2 L576.2 821.3 L583.5 815.7 L590.8 811.7 L598 808.9 L605.3 806.9 L612.5 805.5 L619.8 804.5 L627.1 803.9 L634.3 803.4 L641.6 803.1 L648.9 802.9 L656.1 802.7 L663.4 802.6 L670.7 802.5 L677.9 802.5 L685.2 802.4 L692.5 802.4 L699.7 802.4 L707 802.4 L714.3 802.4 L721.5 802.4 L728.8 802.4 L736.1 802.4 L743.3 802.4 L750.6 802.4 L757.9 802.4 L765.1 802.4 L772.4 802.4 L779.7 802.4 L786.9 802.4" fill="none" stroke="#C8DAF2" stroke-width="1.5" stroke-linejoin="round"/>
<path d="M278.3 1153.1V1159.7" stroke="#C8DAF2" stroke-width="1.6"/>
<path d="M273.6 1153.1h9.5M273.6 1159.7h9.5" stroke="#C8DAF2" stroke-width="2.1"/>
<path d="M308.2 1146.9V1158.4" stroke="#C8DAF2" stroke-width="1.6"/>
<path d="M303.5 1146.9h9.5M303.5 1158.4h9.5" stroke="#C8DAF2" stroke-width="2.1"/>
<path d="M338.1 1149.1V1155.3" stroke="#C8DAF2" stroke-width="1.6"/>
<path d="M333.4 1149.1h9.5M333.4 1155.3h9.5" stroke="#C8DAF2" stroke-width="2.1"/>
<path d="M368.1 1151.3V1156.8" stroke="#C8DAF2" stroke-width="1.6"/>
<path d="M363.3 1151.3h9.5M363.3 1156.8h9.5" stroke="#C8DAF2" stroke-width="2.1"/>
<path d="M398 1153.1V1160.3" stroke="#C8DAF2" stroke-width="1.6"/>
<path d="M393.2 1153.1h9.5M393.2 1160.3h9.5" stroke="#C8DAF2" stroke-width="2.1"/>
<path d="M427.9 1144.4V1157.9" stroke="#C8DAF2" stroke-width="1.6"/>
<path d="M423.2 1144.4h9.5M423.2 1157.9h9.5" stroke="#C8DAF2" stroke-width="2.1"/>
<path d="M457.8 1136.8V1155.3" stroke="#C8DAF2" stroke-width="1.6"/>
<path d="M453.1 1136.8h9.5M453.1 1155.3h9.5" stroke="#C8DAF2" stroke-width="2.1"/>
<path d="M487.7 1009.8V1160.3" stroke="#C8DAF2" stroke-width="1.6"/>
<path d="M483 1009.8h9.5M483 1160.3h9.5" stroke="#C8DAF2" stroke-width="2.1"/>
<path d="M517.7 950.2V1027.6" stroke="#C8DAF2" stroke-width="1.6"/>
<path d="M512.9 950.2h9.5M512.9 1027.6h9.5" stroke="#C8DAF2" stroke-width="2.1"/>
<path d="M547.6 806.6V935.9" stroke="#C8DAF2" stroke-width="1.6"/>
<path d="M542.8 806.6h9.5M542.8 935.9h9.5" stroke="#C8DAF2" stroke-width="2.1"/>
<path d="M577.5 788.8V915" stroke="#C8DAF2" stroke-width="1.6"/>
<path d="M572.8 788.8h9.5M572.8 915h9.5" stroke="#C8DAF2" stroke-width="2.1"/>
<path d="M607.4 781V832.2" stroke="#C8DAF2" stroke-width="1.6"/>
<path d="M602.7 781h9.5M602.7 832.2h9.5" stroke="#C8DAF2" stroke-width="2.1"/>
<path d="M637.3 771.2V805.9" stroke="#C8DAF2" stroke-width="1.6"/>
<path d="M632.6 771.2h9.5M632.6 805.9h9.5" stroke="#C8DAF2" stroke-width="2.1"/>
<path d="M667.3 804.7V821.5" stroke="#C8DAF2" stroke-width="1.6"/>
<path d="M662.5 804.7h9.5M662.5 821.5h9.5" stroke="#C8DAF2" stroke-width="2.1"/>
<path d="M697.2 782.9V800.1" stroke="#C8DAF2" stroke-width="1.6"/>
<path d="M692.4 782.9h9.5M692.4 800.1h9.5" stroke="#C8DAF2" stroke-width="2.1"/>
<path d="M727.1 776.1V815.8" stroke="#C8DAF2" stroke-width="1.6"/>
<path d="M722.4 776.1h9.5M722.4 815.8h9.5" stroke="#C8DAF2" stroke-width="2.1"/>
<path d="M757 782.2V831.4" stroke="#C8DAF2" stroke-width="1.6"/>
<path d="M752.3 782.2h9.5M752.3 831.4h9.5" stroke="#C8DAF2" stroke-width="2.1"/>
<path d="M786.9 804V825.2" stroke="#C8DAF2" stroke-width="1.6"/>
<path d="M782.2 804h9.5M782.2 825.2h9.5" stroke="#C8DAF2" stroke-width="2.1"/>
<circle cx="278.3" cy="1156.4" r="4.5" fill="#C8DAF2"/>
<circle cx="308.2" cy="1152.6" r="4.5" fill="#C8DAF2"/>
<circle cx="338.1" cy="1152.2" r="4.5" fill="#C8DAF2"/>
<circle cx="368.1" cy="1154" r="4.5" fill="#C8DAF2"/>
<circle cx="398" cy="1156.8" r="4.5" fill="#C8DAF2"/>
<circle cx="427.9" cy="1151.2" r="4.5" fill="#C8DAF2"/>
<circle cx="457.8" cy="1146.1" r="4.5" fill="#C8DAF2"/>
<circle cx="487.7" cy="1089.1" r="4.5" fill="#C8DAF2"/>
<circle cx="517.7" cy="988.9" r="4.5" fill="#C8DAF2"/>
<circle cx="547.6" cy="871.2" r="4.5" fill="#C8DAF2"/>
<circle cx="577.5" cy="851.9" r="4.5" fill="#C8DAF2"/>
<circle cx="607.4" cy="806.6" r="4.5" fill="#C8DAF2"/>
<circle cx="637.3" cy="788.5" r="4.5" fill="#C8DAF2"/>
<circle cx="667.3" cy="813.1" r="4.5" fill="#C8DAF2"/>
<circle cx="697.2" cy="791.5" r="4.5" fill="#C8DAF2"/>
<circle cx="727.1" cy="795.9" r="4.5" fill="#C8DAF2"/>
<circle cx="757" cy="806.8" r="4.5" fill="#C8DAF2"/>
<circle cx="786.9" cy="814.6" r="4.5" fill="#C8DAF2"/>
</g>
<g id="c-day6">
<path d="M278.3 1158 L285.6 1158 L292.8 1158 L300.1 1158 L307.4 1158 L314.6 1158 L321.9 1158 L329.2 1158 L336.4 1158 L343.7 1158 L351 1158 L358.2 1157.9 L365.5 1157.9 L372.8 1157.8 L380 1157.7 L387.3 1157.6 L394.6 1157.4 L401.8 1157.1 L409.1 1156.7 L416.4 1156.1 L423.6 1155.2 L430.9 1153.9 L438.2 1152 L445.4 1149.2 L452.7 1145.2 L460 1139.5 L467.2 1131.4 L474.5 1120.2 L481.8 1105.1 L489 1085.4 L496.3 1060.7 L503.6 1031.5 L510.8 998.9 L518.1 965.2 L525.4 932.8 L532.6 903.7 L539.9 879.2 L547.2 859.6 L554.4 844.7 L561.7 833.7 L569 825.7 L576.2 820.1 L583.5 816.1 L590.8 813.4 L598 811.5 L605.3 810.2 L612.5 809.3 L619.8 808.7 L627.1 808.3 L634.3 808 L641.6 807.8 L648.9 807.7 L656.1 807.6 L663.4 807.5 L670.7 807.5 L677.9 807.5 L685.2 807.4 L692.5 807.4 L699.7 807.4 L707 807.4 L714.3 807.4 L721.5 807.4 L728.8 807.4 L736.1 807.4 L743.3 807.4 L750.6 807.4 L757.9 807.4 L765.1 807.4 L772.4 807.4 L779.7 807.4 L786.9 807.4" fill="none" stroke="#000000" stroke-width="2.6" stroke-linejoin="round"/>
<path d="M278.3 1150.7V1156.8" stroke="#000000" stroke-width="1.6"/>
<path d="M273.6 1150.7h9.5M273.6 1156.8h9.5" stroke="#000000" stroke-width="2.1"/>
<path d="M308.2 1149.8V1158.2" stroke="#000000" stroke-width="1.6"/>
<path d="M303.5 1149.8h9.5M303.5 1158.2h9.5" stroke="#000000" stroke-width="2.1"/>
<path d="M338.1 1152.8V1160.3" stroke="#000000" stroke-width="1.6"/>
<path d="M333.4 1152.8h9.5M333.4 1160.3h9.5" stroke="#000000" stroke-width="2.1"/>
<path d="M368.1 1145.9V1157.1" stroke="#000000" stroke-width="1.6"/>
<path d="M363.3 1145.9h9.5M363.3 1157.1h9.5" stroke="#000000" stroke-width="2.1"/>
<path d="M398 1142.2V1160.3" stroke="#000000" stroke-width="1.6"/>
<path d="M393.2 1142.2h9.5M393.2 1160.3h9.5" stroke="#000000" stroke-width="2.1"/>
<path d="M427.9 1147V1156.9" stroke="#000000" stroke-width="1.6"/>
<path d="M423.2 1147h9.5M423.2 1156.9h9.5" stroke="#000000" stroke-width="2.1"/>
<path d="M457.8 1141.3V1158.2" stroke="#000000" stroke-width="1.6"/>
<path d="M453.1 1141.3h9.5M453.1 1158.2h9.5" stroke="#000000" stroke-width="2.1"/>
<path d="M487.7 1041.5V1157.6" stroke="#000000" stroke-width="1.6"/>
<path d="M483 1041.5h9.5M483 1157.6h9.5" stroke="#000000" stroke-width="2.1"/>
<path d="M517.7 964.9V986.6" stroke="#000000" stroke-width="1.6"/>
<path d="M512.9 964.9h9.5M512.9 986.6h9.5" stroke="#000000" stroke-width="2.1"/>
<path d="M547.6 842.2V906.5" stroke="#000000" stroke-width="1.6"/>
<path d="M542.8 842.2h9.5M542.8 906.5h9.5" stroke="#000000" stroke-width="2.1"/>
<path d="M577.5 786.4V827" stroke="#000000" stroke-width="1.6"/>
<path d="M572.8 786.4h9.5M572.8 827h9.5" stroke="#000000" stroke-width="2.1"/>
<path d="M607.4 773.7V854.2" stroke="#000000" stroke-width="1.6"/>
<path d="M602.7 773.7h9.5M602.7 854.2h9.5" stroke="#000000" stroke-width="2.1"/>
<path d="M637.3 772.2V840.3" stroke="#000000" stroke-width="1.6"/>
<path d="M632.6 772.2h9.5M632.6 840.3h9.5" stroke="#000000" stroke-width="2.1"/>
<path d="M667.3 771.8V854.6" stroke="#000000" stroke-width="1.6"/>
<path d="M662.5 771.8h9.5M662.5 854.6h9.5" stroke="#000000" stroke-width="2.1"/>
<path d="M697.2 779.1V831.8" stroke="#000000" stroke-width="1.6"/>
<path d="M692.4 779.1h9.5M692.4 831.8h9.5" stroke="#000000" stroke-width="2.1"/>
<path d="M727.1 755.9V856.5" stroke="#000000" stroke-width="1.6"/>
<path d="M722.4 755.9h9.5M722.4 856.5h9.5" stroke="#000000" stroke-width="2.1"/>
<path d="M757 766.4V850.7" stroke="#000000" stroke-width="1.6"/>
<path d="M752.3 766.4h9.5M752.3 850.7h9.5" stroke="#000000" stroke-width="2.1"/>
<path d="M786.9 770.6V824.8" stroke="#000000" stroke-width="1.6"/>
<path d="M782.2 770.6h9.5M782.2 824.8h9.5" stroke="#000000" stroke-width="2.1"/>
<circle cx="278.3" cy="1153.8" r="4.5" fill="#000000"/>
<circle cx="308.2" cy="1154" r="4.5" fill="#000000"/>
<circle cx="338.1" cy="1157.1" r="4.5" fill="#000000"/>
<circle cx="368.1" cy="1151.5" r="4.5" fill="#000000"/>
<circle cx="398" cy="1151.4" r="4.5" fill="#000000"/>
<circle cx="427.9" cy="1151.9" r="4.5" fill="#000000"/>
<circle cx="457.8" cy="1149.7" r="4.5" fill="#000000"/>
<circle cx="487.7" cy="1099.6" r="4.5" fill="#000000"/>
<circle cx="517.7" cy="975.7" r="4.5" fill="#000000"/>
<circle cx="547.6" cy="874.3" r="4.5" fill="#000000"/>
<circle cx="577.5" cy="806.7" r="4.5" fill="#000000"/>
<circle cx="607.4" cy="814" r="4.5" fill="#000000"/>
<circle cx="637.3" cy="806.2" r="4.5" fill="#000000"/>
<circle cx="667.3" cy="813.2" r="4.5" fill="#000000"/>
<circle cx="697.2" cy="805.5" r="4.5" fill="#000000"/>
<circle cx="727.1" cy="806.2" r="4.5" fill="#000000"/>
<circle cx="757" cy="808.6" r="4.5" fill="#000000"/>
<circle cx="786.9" cy="797.7" r="4.5" fill="#000000"/>
</g>
<g id="c-day5">
<path d="M278.3 1156.5 L285.6 1156.5 L292.8 1156.5 L300.1 1156.5 L307.4 1156.5 L314.6 1156.5 L321.9 1156.5 L329.2 1156.5 L336.4 1156.5 L343.7 1156.4 L351 1156.4 L358.2 1156.4 L365.5 1156.4 L372.8 1156.3 L380 1156.3 L387.3 1156.2 L394.6 1156 L401.8 1155.8 L409.1 1155.5 L416.4 1155 L423.6 1154.3 L430.9 1153.2 L438.2 1151.7 L445.4 1149.3 L452.7 1145.9 L460 1140.9 L467.2 1133.7 L474.5 1123.4 L481.8 1109.3 L489 1090.4 L496.3 1066.2 L503.6 1036.9 L510.8 1003.8 L518.1 969.1 L525.4 935.5 L532.6 905.4 L539.9 880.2 L547.2 860.3 L554.4 845.4 L561.7 834.5 L569 826.8 L576.2 821.5 L583.5 817.8 L590.8 815.3 L598 813.6 L605.3 812.4 L612.5 811.7 L619.8 811.2 L627.1 810.8 L634.3 810.6 L641.6 810.4 L648.9 810.3 L656.1 810.2 L663.4 810.2 L670.7 810.2 L677.9 810.1 L685.2 810.1 L692.5 810.1 L699.7 810.1 L707 810.1 L714.3 810.1 L721.5 810.1 L728.8 810.1 L736.1 810.1 L743.3 810.1 L750.6 810.1 L757.9 810.1 L765.1 810.1 L772.4 810.1 L779.7 810.1 L786.9 810.1" fill="none" stroke="#424242" stroke-width="2.6" stroke-linejoin="round"/>
<path d="M278.3 1152.3V1155.9" stroke="#424242" stroke-width="1.6"/>
<path d="M273.6 1152.3h9.5M273.6 1155.9h9.5" stroke="#424242" stroke-width="2.1"/>
<path d="M308.2 1149.7V1160.3" stroke="#424242" stroke-width="1.6"/>
<path d="M303.5 1149.7h9.5M303.5 1160.3h9.5" stroke="#424242" stroke-width="2.1"/>
<path d="M338.1 1147.1V1156" stroke="#424242" stroke-width="1.6"/>
<path d="M333.4 1147.1h9.5M333.4 1156h9.5" stroke="#424242" stroke-width="2.1"/>
<path d="M368.1 1149.2V1157.5" stroke="#424242" stroke-width="1.6"/>
<path d="M363.3 1149.2h9.5M363.3 1157.5h9.5" stroke="#424242" stroke-width="2.1"/>
<path d="M398 1155.4V1158.1" stroke="#424242" stroke-width="1.6"/>
<path d="M393.2 1155.4h9.5M393.2 1158.1h9.5" stroke="#424242" stroke-width="2.1"/>
<path d="M427.9 1150.3V1160.3" stroke="#424242" stroke-width="1.6"/>
<path d="M423.2 1150.3h9.5M423.2 1160.3h9.5" stroke="#424242" stroke-width="2.1"/>
<path d="M457.8 1136.8V1155.6" stroke="#424242" stroke-width="1.6"/>
<path d="M453.1 1136.8h9.5M453.1 1155.6h9.5" stroke="#424242" stroke-width="2.1"/>
<path d="M487.7 1048.9V1158" stroke="#424242" stroke-width="1.6"/>
<path d="M483 1048.9h9.5M483 1158h9.5" stroke="#424242" stroke-width="2.1"/>
<path d="M517.7 932.4V963.4" stroke="#424242" stroke-width="1.6"/>
<path d="M512.9 932.4h9.5M512.9 963.4h9.5" stroke="#424242" stroke-width="2.1"/>
<path d="M547.6 838.4V896.4" stroke="#424242" stroke-width="1.6"/>
<path d="M542.8 838.4h9.5M542.8 896.4h9.5" stroke="#424242" stroke-width="2.1"/>
<path d="M577.5 812.1V854.3" stroke="#424242" stroke-width="1.6"/>
<path d="M572.8 812.1h9.5M572.8 854.3h9.5" stroke="#424242" stroke-width="2.1"/>
<path d="M607.4 768.3V822.1" stroke="#424242" stroke-width="1.6"/>
<path d="M602.7 768.3h9.5M602.7 822.1h9.5" stroke="#424242" stroke-width="2.1"/>
<path d="M637.3 772.4V817.9" stroke="#424242" stroke-width="1.6"/>
<path d="M632.6 772.4h9.5M632.6 817.9h9.5" stroke="#424242" stroke-width="2.1"/>
<path d="M667.3 766.4V820.9" stroke="#424242" stroke-width="1.6"/>
<path d="M662.5 766.4h9.5M662.5 820.9h9.5" stroke="#424242" stroke-width="2.1"/>
<path d="M697.2 783.3V827.9" stroke="#424242" stroke-width="1.6"/>
<path d="M692.4 783.3h9.5M692.4 827.9h9.5" stroke="#424242" stroke-width="2.1"/>
<path d="M727.1 764.4V817" stroke="#424242" stroke-width="1.6"/>
<path d="M722.4 764.4h9.5M722.4 817h9.5" stroke="#424242" stroke-width="2.1"/>
<path d="M757 779.3V828.4" stroke="#424242" stroke-width="1.6"/>
<path d="M752.3 779.3h9.5M752.3 828.4h9.5" stroke="#424242" stroke-width="2.1"/>
<path d="M786.9 771.8V811.7" stroke="#424242" stroke-width="1.6"/>
<path d="M782.2 771.8h9.5M782.2 811.7h9.5" stroke="#424242" stroke-width="2.1"/>
<circle cx="278.3" cy="1154.1" r="4.5" fill="#424242"/>
<circle cx="308.2" cy="1155.4" r="4.5" fill="#424242"/>
<circle cx="338.1" cy="1151.6" r="4.5" fill="#424242"/>
<circle cx="368.1" cy="1153.3" r="4.5" fill="#424242"/>
<circle cx="398" cy="1156.8" r="4.5" fill="#424242"/>
<circle cx="427.9" cy="1157.5" r="4.5" fill="#424242"/>
<circle cx="457.8" cy="1146.2" r="4.5" fill="#424242"/>
<circle cx="487.7" cy="1103.5" r="4.5" fill="#424242"/>
<circle cx="517.7" cy="947.9" r="4.5" fill="#424242"/>
<circle cx="547.6" cy="867.4" r="4.5" fill="#424242"/>
<circle cx="577.5" cy="833.2" r="4.5" fill="#424242"/>
<circle cx="607.4" cy="795.2" r="4.5" fill="#424242"/>
<circle cx="637.3" cy="795.2" r="4.5" fill="#424242"/>
<circle cx="667.3" cy="793.6" r="4.5" fill="#424242"/>
<circle cx="697.2" cy="805.6" r="4.5" fill="#424242"/>
<circle cx="727.1" cy="790.7" r="4.5" fill="#424242"/>
<circle cx="757" cy="803.8" r="4.5" fill="#424242"/>
<circle cx="786.9" cy="791.7" r="4.5" fill="#424242"/>
</g>
<g id="c-day4">
<path d="M278.3 1157.6 L285.6 1157.6 L292.8 1157.6 L300.1 1157.6 L307.4 1157.6 L314.6 1157.6 L321.9 1157.6 L329.2 1157.6 L336.4 1157.6 L343.7 1157.6 L351 1157.6 L358.2 1157.6 L365.5 1157.6 L372.8 1157.5 L380 1157.5 L387.3 1157.4 L394.6 1157.3 L401.8 1157.1 L409.1 1156.8 L416.4 1156.4 L423.6 1155.8 L430.9 1154.9 L438.2 1153.5 L445.4 1151.4 L452.7 1148.2 L460 1143.5 L467.2 1136.6 L474.5 1126.6 L481.8 1112.6 L489 1093.5 L496.3 1068.6 L503.6 1038.2 L510.8 1003.7 L518.1 967.5 L525.4 932.7 L532.6 901.9 L539.9 876.7 L547.2 857.2 L554.4 842.8 L561.7 832.5 L569 825.4 L576.2 820.6 L583.5 817.3 L590.8 815.1 L598 813.7 L605.3 812.7 L612.5 812.1 L619.8 811.7 L627.1 811.4 L634.3 811.2 L641.6 811.1 L648.9 811 L656.1 811 L663.4 810.9 L670.7 810.9 L677.9 810.9 L685.2 810.9 L692.5 810.9 L699.7 810.9 L707 810.9 L714.3 810.9 L721.5 810.9 L728.8 810.9 L736.1 810.9 L743.3 810.9 L750.6 810.9 L757.9 810.9 L765.1 810.9 L772.4 810.9 L779.7 810.9 L786.9 810.9" fill="none" stroke="#6F6F6F" stroke-width="2.2" stroke-linejoin="round"/>
<path d="M278.3 1146.7V1157.3" stroke="#6F6F6F" stroke-width="1.6"/>
<path d="M273.6 1146.7h9.5M273.6 1157.3h9.5" stroke="#6F6F6F" stroke-width="2.1"/>
<path d="M308.2 1154V1158.2" stroke="#6F6F6F" stroke-width="1.6"/>
<path d="M303.5 1154h9.5M303.5 1158.2h9.5" stroke="#6F6F6F" stroke-width="2.1"/>
<path d="M338.1 1147.2V1158.9" stroke="#6F6F6F" stroke-width="1.6"/>
<path d="M333.4 1147.2h9.5M333.4 1158.9h9.5" stroke="#6F6F6F" stroke-width="2.1"/>
<path d="M368.1 1150.5V1160.3" stroke="#6F6F6F" stroke-width="1.6"/>
<path d="M363.3 1150.5h9.5M363.3 1160.3h9.5" stroke="#6F6F6F" stroke-width="2.1"/>
<path d="M398 1148V1156.4" stroke="#6F6F6F" stroke-width="1.6"/>
<path d="M393.2 1148h9.5M393.2 1156.4h9.5" stroke="#6F6F6F" stroke-width="2.1"/>
<path d="M427.9 1152.5V1156.2" stroke="#6F6F6F" stroke-width="1.6"/>
<path d="M423.2 1152.5h9.5M423.2 1156.2h9.5" stroke="#6F6F6F" stroke-width="2.1"/>
<path d="M457.8 1145.8V1160.3" stroke="#6F6F6F" stroke-width="1.6"/>
<path d="M453.1 1145.8h9.5M453.1 1160.3h9.5" stroke="#6F6F6F" stroke-width="2.1"/>
<path d="M487.7 1131.6V1155.7" stroke="#6F6F6F" stroke-width="1.6"/>
<path d="M483 1131.6h9.5M483 1155.7h9.5" stroke="#6F6F6F" stroke-width="2.1"/>
<path d="M517.7 945.7V993" stroke="#6F6F6F" stroke-width="1.6"/>
<path d="M512.9 945.7h9.5M512.9 993h9.5" stroke="#6F6F6F" stroke-width="2.1"/>
<path d="M547.6 815.1V852" stroke="#6F6F6F" stroke-width="1.6"/>
<path d="M542.8 815.1h9.5M542.8 852h9.5" stroke="#6F6F6F" stroke-width="2.1"/>
<path d="M577.5 804.8V853.1" stroke="#6F6F6F" stroke-width="1.6"/>
<path d="M572.8 804.8h9.5M572.8 853.1h9.5" stroke="#6F6F6F" stroke-width="2.1"/>
<path d="M607.4 800.7V825.9" stroke="#6F6F6F" stroke-width="1.6"/>
<path d="M602.7 800.7h9.5M602.7 825.9h9.5" stroke="#6F6F6F" stroke-width="2.1"/>
<path d="M637.3 774.1V825.9" stroke="#6F6F6F" stroke-width="1.6"/>
<path d="M632.6 774.1h9.5M632.6 825.9h9.5" stroke="#6F6F6F" stroke-width="2.1"/>
<path d="M667.3 784.8V812.2" stroke="#6F6F6F" stroke-width="1.6"/>
<path d="M662.5 784.8h9.5M662.5 812.2h9.5" stroke="#6F6F6F" stroke-width="2.1"/>
<path d="M697.2 778.2V802.4" stroke="#6F6F6F" stroke-width="1.6"/>
<path d="M692.4 778.2h9.5M692.4 802.4h9.5" stroke="#6F6F6F" stroke-width="2.1"/>
<path d="M727.1 801.2V828.2" stroke="#6F6F6F" stroke-width="1.6"/>
<path d="M722.4 801.2h9.5M722.4 828.2h9.5" stroke="#6F6F6F" stroke-width="2.1"/>
<path d="M757 794V812.1" stroke="#6F6F6F" stroke-width="1.6"/>
<path d="M752.3 794h9.5M752.3 812.1h9.5" stroke="#6F6F6F" stroke-width="2.1"/>
<path d="M786.9 794.8V825.9" stroke="#6F6F6F" stroke-width="1.6"/>
<path d="M782.2 794.8h9.5M782.2 825.9h9.5" stroke="#6F6F6F" stroke-width="2.1"/>
<circle cx="278.3" cy="1152" r="4.5" fill="#6F6F6F"/>
<circle cx="308.2" cy="1156.1" r="4.5" fill="#6F6F6F"/>
<circle cx="338.1" cy="1153.1" r="4.5" fill="#6F6F6F"/>
<circle cx="368.1" cy="1156.4" r="4.5" fill="#6F6F6F"/>
<circle cx="398" cy="1152.2" r="4.5" fill="#6F6F6F"/>
<circle cx="427.9" cy="1154.4" r="4.5" fill="#6F6F6F"/>
<circle cx="457.8" cy="1155.2" r="4.5" fill="#6F6F6F"/>
<circle cx="487.7" cy="1143.6" r="4.5" fill="#6F6F6F"/>
<circle cx="517.7" cy="969.3" r="4.5" fill="#6F6F6F"/>
<circle cx="547.6" cy="833.6" r="4.5" fill="#6F6F6F"/>
<circle cx="577.5" cy="829" r="4.5" fill="#6F6F6F"/>
<circle cx="607.4" cy="813.3" r="4.5" fill="#6F6F6F"/>
<circle cx="637.3" cy="800" r="4.5" fill="#6F6F6F"/>
<circle cx="667.3" cy="798.5" r="4.5" fill="#6F6F6F"/>
<circle cx="697.2" cy="790.3" r="4.5" fill="#6F6F6F"/>
<circle cx="727.1" cy="814.7" r="4.5" fill="#6F6F6F"/>
<circle cx="757" cy="803.1" r="4.5" fill="#6F6F6F"/>
<circle cx="786.9" cy="810.4" r="4.5" fill="#6F6F6F"/>
</g>
<g id="c-day3">
<path d="M278.3 1160.7 L285.6 1160.7 L292.8 1160.7 L300.1 1160.7 L307.4 1160.7 L314.6 1160.7 L321.9 1160.7 L329.2 1160.7 L336.4 1160.7 L343.7 1160.7 L351 1160.7 L358.2 1160.7 L365.5 1160.7 L372.8 1160.7 L380 1160.7 L387.3 1160.7 L394.6 1160.7 L401.8 1160.7 L409.1 1160.7 L416.4 1160.7 L423.6 1160.7 L430.9 1160.7 L438.2 1160.7 L445.4 1160.7 L452.7 1160.6 L460 1160.5 L467.2 1160 L474.5 1158.8 L481.8 1155.5 L489 1146.7 L496.3 1124.9 L503.6 1077.8 L510.8 1000.9 L518.1 918.7 L525.4 862.6 L532.6 835 L539.9 823.6 L547.2 819.3 L554.4 817.6 L561.7 817 L569 816.8 L576.2 816.7 L583.5 816.7 L590.8 816.7 L598 816.7 L605.3 816.7 L612.5 816.7 L619.8 816.7 L627.1 816.7 L634.3 816.7 L641.6 816.7 L648.9 816.7 L656.1 816.7 L663.4 816.7 L670.7 816.7 L677.9 816.7 L685.2 816.7 L692.5 816.7 L699.7 816.7 L707 816.7 L714.3 816.7 L721.5 816.7 L728.8 816.7 L736.1 816.7 L743.3 816.7 L750.6 816.7 L757.9 816.7 L765.1 816.7 L772.4 816.7 L779.7 816.7 L786.9 816.7" fill="none" stroke="#8A8A8A" stroke-width="2.2" stroke-linejoin="round"/>
<path d="M278.3 1151.6V1160.3" stroke="#8A8A8A" stroke-width="1.6"/>
<path d="M273.6 1151.6h9.5M273.6 1160.3h9.5" stroke="#8A8A8A" stroke-width="2.1"/>
<path d="M308.2 1152.4V1160.3" stroke="#8A8A8A" stroke-width="1.6"/>
<path d="M303.5 1152.4h9.5M303.5 1160.3h9.5" stroke="#8A8A8A" stroke-width="2.1"/>
<path d="M338.1 1153.6V1160.2" stroke="#8A8A8A" stroke-width="1.6"/>
<path d="M333.4 1153.6h9.5M333.4 1160.2h9.5" stroke="#8A8A8A" stroke-width="2.1"/>
<path d="M368.1 1153.8V1158.8" stroke="#8A8A8A" stroke-width="1.6"/>
<path d="M363.3 1153.8h9.5M363.3 1158.8h9.5" stroke="#8A8A8A" stroke-width="2.1"/>
<path d="M398 1146.4V1156.8" stroke="#8A8A8A" stroke-width="1.6"/>
<path d="M393.2 1146.4h9.5M393.2 1156.8h9.5" stroke="#8A8A8A" stroke-width="2.1"/>
<path d="M427.9 1148.3V1160.3" stroke="#8A8A8A" stroke-width="1.6"/>
<path d="M423.2 1148.3h9.5M423.2 1160.3h9.5" stroke="#8A8A8A" stroke-width="2.1"/>
<path d="M457.8 1147.9V1157.8" stroke="#8A8A8A" stroke-width="1.6"/>
<path d="M453.1 1147.9h9.5M453.1 1157.8h9.5" stroke="#8A8A8A" stroke-width="2.1"/>
<path d="M487.7 1151.1V1158.8" stroke="#8A8A8A" stroke-width="1.6"/>
<path d="M483 1151.1h9.5M483 1158.8h9.5" stroke="#8A8A8A" stroke-width="2.1"/>
<path d="M517.7 955.8V1009.6" stroke="#8A8A8A" stroke-width="1.6"/>
<path d="M512.9 955.8h9.5M512.9 1009.6h9.5" stroke="#8A8A8A" stroke-width="2.1"/>
<path d="M547.6 842.7V877.9" stroke="#8A8A8A" stroke-width="1.6"/>
<path d="M542.8 842.7h9.5M542.8 877.9h9.5" stroke="#8A8A8A" stroke-width="2.1"/>
<path d="M577.5 870.1V896.4" stroke="#8A8A8A" stroke-width="1.6"/>
<path d="M572.8 870.1h9.5M572.8 896.4h9.5" stroke="#8A8A8A" stroke-width="2.1"/>
<path d="M607.4 806.6V858.5" stroke="#8A8A8A" stroke-width="1.6"/>
<path d="M602.7 806.6h9.5M602.7 858.5h9.5" stroke="#8A8A8A" stroke-width="2.1"/>
<path d="M637.3 782.2V851.9" stroke="#8A8A8A" stroke-width="1.6"/>
<path d="M632.6 782.2h9.5M632.6 851.9h9.5" stroke="#8A8A8A" stroke-width="2.1"/>
<path d="M667.3 758.6V849.2" stroke="#8A8A8A" stroke-width="1.6"/>
<path d="M662.5 758.6h9.5M662.5 849.2h9.5" stroke="#8A8A8A" stroke-width="2.1"/>
<path d="M697.2 738.1V836.4" stroke="#8A8A8A" stroke-width="1.6"/>
<path d="M692.4 738.1h9.5M692.4 836.4h9.5" stroke="#8A8A8A" stroke-width="2.1"/>
<path d="M727.1 749V838.7" stroke="#8A8A8A" stroke-width="1.6"/>
<path d="M722.4 749h9.5M722.4 838.7h9.5" stroke="#8A8A8A" stroke-width="2.1"/>
<path d="M757 733.1V839.1" stroke="#8A8A8A" stroke-width="1.6"/>
<path d="M752.3 733.1h9.5M752.3 839.1h9.5" stroke="#8A8A8A" stroke-width="2.1"/>
<path d="M786.9 751.7V842.2" stroke="#8A8A8A" stroke-width="1.6"/>
<path d="M782.2 751.7h9.5M782.2 842.2h9.5" stroke="#8A8A8A" stroke-width="2.1"/>
<circle cx="278.3" cy="1156.4" r="4.5" fill="#8A8A8A"/>
<circle cx="308.2" cy="1156.8" r="4.5" fill="#8A8A8A"/>
<circle cx="338.1" cy="1156.9" r="4.5" fill="#8A8A8A"/>
<circle cx="368.1" cy="1156.3" r="4.5" fill="#8A8A8A"/>
<circle cx="398" cy="1151.6" r="4.5" fill="#8A8A8A"/>
<circle cx="427.9" cy="1155.3" r="4.5" fill="#8A8A8A"/>
<circle cx="457.8" cy="1152.8" r="4.5" fill="#8A8A8A"/>
<circle cx="487.7" cy="1154.9" r="4.5" fill="#8A8A8A"/>
<circle cx="517.7" cy="982.7" r="4.5" fill="#8A8A8A"/>
<circle cx="547.6" cy="860.3" r="4.5" fill="#8A8A8A"/>
<circle cx="577.5" cy="883.2" r="4.5" fill="#8A8A8A"/>
<circle cx="607.4" cy="832.5" r="4.5" fill="#8A8A8A"/>
<circle cx="637.3" cy="817.1" r="4.5" fill="#8A8A8A"/>
<circle cx="667.3" cy="803.9" r="4.5" fill="#8A8A8A"/>
<circle cx="697.2" cy="787.3" r="4.5" fill="#8A8A8A"/>
<circle cx="727.1" cy="793.8" r="4.5" fill="#8A8A8A"/>
<circle cx="757" cy="786.1" r="4.5" fill="#8A8A8A"/>
<circle cx="786.9" cy="796.9" r="4.5" fill="#8A8A8A"/>
</g>
<g id="c-day2">
<path d="M278.3 1160.3 L285.6 1160.3 L292.8 1160.3 L300.1 1160.3 L307.4 1160.3 L314.6 1160.3 L321.9 1160.3 L329.2 1160.3 L336.4 1160.3 L343.7 1160.3 L351 1160.3 L358.2 1160.3 L365.5 1160.3 L372.8 1160.3 L380 1160.3 L387.3 1160.3 L394.6 1160.3 L401.8 1160.3 L409.1 1160.3 L416.4 1160.3 L423.6 1160.3 L430.9 1160.3 L438.2 1160.3 L445.4 1160.3 L452.7 1160.2 L460 1159.9 L467.2 1159.2 L474.5 1157.3 L481.8 1152.8 L489 1141.7 L496.3 1116.3 L503.6 1066.1 L510.8 990.4 L518.1 912.5 L525.4 858.5 L532.6 830.4 L539.9 817.9 L547.2 812.7 L554.4 810.7 L561.7 809.9 L569 809.5 L576.2 809.4 L583.5 809.4 L590.8 809.3 L598 809.3 L605.3 809.3 L612.5 809.3 L619.8 809.3 L627.1 809.3 L634.3 809.3 L641.6 809.3 L648.9 809.3 L656.1 809.3 L663.4 809.3 L670.7 809.3 L677.9 809.3 L685.2 809.3 L692.5 809.3 L699.7 809.3 L707 809.3 L714.3 809.3 L721.5 809.3 L728.8 809.3 L736.1 809.3 L743.3 809.3 L750.6 809.3 L757.9 809.3 L765.1 809.3 L772.4 809.3 L779.7 809.3 L786.9 809.3" fill="none" stroke="#A3A3A3" stroke-width="2.8" stroke-linejoin="round"/>
<path d="M278.3 1145.3V1157.6" stroke="#A3A3A3" stroke-width="1.6"/>
<path d="M273.6 1145.3h9.5M273.6 1157.6h9.5" stroke="#A3A3A3" stroke-width="2.1"/>
<path d="M308.2 1147.7V1157.1" stroke="#A3A3A3" stroke-width="1.6"/>
<path d="M303.5 1147.7h9.5M303.5 1157.1h9.5" stroke="#A3A3A3" stroke-width="2.1"/>
<path d="M338.1 1153.4V1158" stroke="#A3A3A3" stroke-width="1.6"/>
<path d="M333.4 1153.4h9.5M333.4 1158h9.5" stroke="#A3A3A3" stroke-width="2.1"/>
<path d="M368.1 1154.3V1157.4" stroke="#A3A3A3" stroke-width="1.6"/>
<path d="M363.3 1154.3h9.5M363.3 1157.4h9.5" stroke="#A3A3A3" stroke-width="2.1"/>
<path d="M398 1149.7V1156.1" stroke="#A3A3A3" stroke-width="1.6"/>
<path d="M393.2 1149.7h9.5M393.2 1156.1h9.5" stroke="#A3A3A3" stroke-width="2.1"/>
<path d="M427.9 1147.4V1154.8" stroke="#A3A3A3" stroke-width="1.6"/>
<path d="M423.2 1147.4h9.5M423.2 1154.8h9.5" stroke="#A3A3A3" stroke-width="2.1"/>
<path d="M457.8 1134.2V1151.2" stroke="#A3A3A3" stroke-width="1.6"/>
<path d="M453.1 1134.2h9.5M453.1 1151.2h9.5" stroke="#A3A3A3" stroke-width="2.1"/>
<path d="M487.7 1126.7V1142.2" stroke="#A3A3A3" stroke-width="1.6"/>
<path d="M483 1126.7h9.5M483 1142.2h9.5" stroke="#A3A3A3" stroke-width="2.1"/>
<path d="M517.7 896.9V930.6" stroke="#A3A3A3" stroke-width="1.6"/>
<path d="M512.9 896.9h9.5M512.9 930.6h9.5" stroke="#A3A3A3" stroke-width="2.1"/>
<path d="M547.6 848.8V887.5" stroke="#A3A3A3" stroke-width="1.6"/>
<path d="M542.8 848.8h9.5M542.8 887.5h9.5" stroke="#A3A3A3" stroke-width="2.1"/>
<path d="M577.5 813.6V856.2" stroke="#A3A3A3" stroke-width="1.6"/>
<path d="M572.8 813.6h9.5M572.8 856.2h9.5" stroke="#A3A3A3" stroke-width="2.1"/>
<path d="M607.4 780.6V807.5" stroke="#A3A3A3" stroke-width="1.6"/>
<path d="M602.7 780.6h9.5M602.7 807.5h9.5" stroke="#A3A3A3" stroke-width="2.1"/>
<path d="M637.3 798V827.6" stroke="#A3A3A3" stroke-width="1.6"/>
<path d="M632.6 798h9.5M632.6 827.6h9.5" stroke="#A3A3A3" stroke-width="2.1"/>
<path d="M667.3 765.1V812.9" stroke="#A3A3A3" stroke-width="1.6"/>
<path d="M662.5 765.1h9.5M662.5 812.9h9.5" stroke="#A3A3A3" stroke-width="2.1"/>
<path d="M697.2 799V824.9" stroke="#A3A3A3" stroke-width="1.6"/>
<path d="M692.4 799h9.5M692.4 824.9h9.5" stroke="#A3A3A3" stroke-width="2.1"/>
<path d="M727.1 803.4V821.4" stroke="#A3A3A3" stroke-width="1.6"/>
<path d="M722.4 803.4h9.5M722.4 821.4h9.5" stroke="#A3A3A3" stroke-width="2.1"/>
<path d="M757 782V805.1" stroke="#A3A3A3" stroke-width="1.6"/>
<path d="M752.3 782h9.5M752.3 805.1h9.5" stroke="#A3A3A3" stroke-width="2.1"/>
<path d="M786.9 782.7V817.2" stroke="#A3A3A3" stroke-width="1.6"/>
<path d="M782.2 782.7h9.5M782.2 817.2h9.5" stroke="#A3A3A3" stroke-width="2.1"/>
<circle cx="278.3" cy="1151.5" r="4.5" fill="#A3A3A3"/>
<circle cx="308.2" cy="1152.4" r="4.5" fill="#A3A3A3"/>
<circle cx="338.1" cy="1155.7" r="4.5" fill="#A3A3A3"/>
<circle cx="368.1" cy="1155.8" r="4.5" fill="#A3A3A3"/>
<circle cx="398" cy="1152.9" r="4.5" fill="#A3A3A3"/>
<circle cx="427.9" cy="1151.1" r="4.5" fill="#A3A3A3"/>
<circle cx="457.8" cy="1142.7" r="4.5" fill="#A3A3A3"/>
<circle cx="487.7" cy="1134.4" r="4.5" fill="#A3A3A3"/>
<circle cx="517.7" cy="913.7" r="4.5" fill="#A3A3A3"/>
<circle cx="547.6" cy="868.2" r="4.5" fill="#A3A3A3"/>
<circle cx="577.5" cy="834.9" r="4.5" fill="#A3A3A3"/>
<circle cx="607.4" cy="794" r="4.5" fill="#A3A3A3"/>
<circle cx="637.3" cy="812.8" r="4.5" fill="#A3A3A3"/>
<circle cx="667.3" cy="789" r="4.5" fill="#A3A3A3"/>
<circle cx="697.2" cy="811.9" r="4.5" fill="#A3A3A3"/>
<circle cx="727.1" cy="812.4" r="4.5" fill="#A3A3A3"/>
<circle cx="757" cy="793.5" r="4.5" fill="#A3A3A3"/>
<circle cx="786.9" cy="800" r="4.5" fill="#A3A3A3"/>
</g>
<g id="c-day1">
<path d="M278.3 1152.6 L285.6 1152.6 L292.8 1152.6 L300.1 1152.6 L307.4 1152.6 L314.6 1152.6 L321.9 1152.6 L329.2 1152.6 L336.4 1152.6 L343.7 1152.6 L351 1152.6 L358.2 1152.6 L365.5 1152.6 L372.8 1152.6 L380 1152.6 L387.3 1152.6 L394.6 1152.5 L401.8 1152.5 L409.1 1152.4 L416.4 1152.3 L423.6 1152.2 L430.9 1151.9 L438.2 1151.3 L445.4 1150.4 L452.7 1148.9 L460 1146.3 L467.2 1142 L474.5 1134.8 L481.8 1123.3 L489 1105.3 L496.3 1078.8 L503.6 1042.9 L510.8 999.2 L518.1 952.7 L525.4 909.6 L532.6 874.5 L539.9 848.9 L547.2 831.5 L554.4 820.5 L561.7 813.6 L569 809.5 L576.2 807.1 L583.5 805.6 L590.8 804.7 L598 804.2 L605.3 803.9 L612.5 803.8 L619.8 803.7 L627.1 803.6 L634.3 803.6 L641.6 803.6 L648.9 803.5 L656.1 803.5 L663.4 803.5 L670.7 803.5 L677.9 803.5 L685.2 803.5 L692.5 803.5 L699.7 803.5 L707 803.5 L714.3 803.5 L721.5 803.5 L728.8 803.5 L736.1 803.5 L743.3 803.5 L750.6 803.5 L757.9 803.5 L765.1 803.5 L772.4 803.5 L779.7 803.5 L786.9 803.5" fill="none" stroke="#D4D4D4" stroke-width="1.6" stroke-linejoin="round"/>
<path d="M278.3 1145.2V1159.2" stroke="#D4D4D4" stroke-width="1.6"/>
<path d="M273.6 1145.2h9.5M273.6 1159.2h9.5" stroke="#D4D4D4" stroke-width="2.1"/>
<path d="M308.2 1148.4V1155.4" stroke="#D4D4D4" stroke-width="1.6"/>
<path d="M303.5 1148.4h9.5M303.5 1155.4h9.5" stroke="#D4D4D4" stroke-width="2.1"/>
<path d="M338.1 1137.5V1160.3" stroke="#D4D4D4" stroke-width="1.6"/>
<path d="M333.4 1137.5h9.5M333.4 1160.3h9.5" stroke="#D4D4D4" stroke-width="2.1"/>
<path d="M368.1 1141.4V1160.3" stroke="#D4D4D4" stroke-width="1.6"/>
<path d="M363.3 1141.4h9.5M363.3 1160.3h9.5" stroke="#D4D4D4" stroke-width="2.1"/>
<path d="M398 1139.1V1160.3" stroke="#D4D4D4" stroke-width="1.6"/>
<path d="M393.2 1139.1h9.5M393.2 1160.3h9.5" stroke="#D4D4D4" stroke-width="2.1"/>
<path d="M427.9 1124V1152.6" stroke="#D4D4D4" stroke-width="1.6"/>
<path d="M423.2 1124h9.5M423.2 1152.6h9.5" stroke="#D4D4D4" stroke-width="2.1"/>
<path d="M457.8 1142.5V1154.1" stroke="#D4D4D4" stroke-width="1.6"/>
<path d="M453.1 1142.5h9.5M453.1 1154.1h9.5" stroke="#D4D4D4" stroke-width="2.1"/>
<path d="M487.7 1101.1V1124.3" stroke="#D4D4D4" stroke-width="1.6"/>
<path d="M483 1101.1h9.5M483 1124.3h9.5" stroke="#D4D4D4" stroke-width="2.1"/>
<path d="M517.7 891V921.9" stroke="#D4D4D4" stroke-width="1.6"/>
<path d="M512.9 891h9.5M512.9 921.9h9.5" stroke="#D4D4D4" stroke-width="2.1"/>
<path d="M547.6 845.3V891.8" stroke="#D4D4D4" stroke-width="1.6"/>
<path d="M542.8 845.3h9.5M542.8 891.8h9.5" stroke="#D4D4D4" stroke-width="2.1"/>
<path d="M577.5 797.7V844.2" stroke="#D4D4D4" stroke-width="1.6"/>
<path d="M572.8 797.7h9.5M572.8 844.2h9.5" stroke="#D4D4D4" stroke-width="2.1"/>
<path d="M607.4 791.8V809.8" stroke="#D4D4D4" stroke-width="1.6"/>
<path d="M602.7 791.8h9.5M602.7 809.8h9.5" stroke="#D4D4D4" stroke-width="2.1"/>
<path d="M637.3 797.1V822.9" stroke="#D4D4D4" stroke-width="1.6"/>
<path d="M632.6 797.1h9.5M632.6 822.9h9.5" stroke="#D4D4D4" stroke-width="2.1"/>
<path d="M667.3 796.7V831.9" stroke="#D4D4D4" stroke-width="1.6"/>
<path d="M662.5 796.7h9.5M662.5 831.9h9.5" stroke="#D4D4D4" stroke-width="2.1"/>
<path d="M697.2 777.5V828.9" stroke="#D4D4D4" stroke-width="1.6"/>
<path d="M692.4 777.5h9.5M692.4 828.9h9.5" stroke="#D4D4D4" stroke-width="2.1"/>
<path d="M727.1 779.7V822.4" stroke="#D4D4D4" stroke-width="1.6"/>
<path d="M722.4 779.7h9.5M722.4 822.4h9.5" stroke="#D4D4D4" stroke-width="2.1"/>
<path d="M757 779.8V823.4" stroke="#D4D4D4" stroke-width="1.6"/>
<path d="M752.3 779.8h9.5M752.3 823.4h9.5" stroke="#D4D4D4" stroke-width="2.1"/>
<path d="M786.9 789.1V816.4" stroke="#D4D4D4" stroke-width="1.6"/>
<path d="M782.2 789.1h9.5M782.2 816.4h9.5" stroke="#D4D4D4" stroke-width="2.1"/>
<circle cx="278.3" cy="1152.2" r="4.5" fill="#D4D4D4"/>
<circle cx="308.2" cy="1151.9" r="4.5" fill="#D4D4D4"/>
<circle cx="338.1" cy="1152.2" r="4.5" fill="#D4D4D4"/>
<circle cx="368.1" cy="1153" r="4.5" fill="#D4D4D4"/>
<circle cx="398" cy="1152.2" r="4.5" fill="#D4D4D4"/>
<circle cx="427.9" cy="1138.3" r="4.5" fill="#D4D4D4"/>
<circle cx="457.8" cy="1148.3" r="4.5" fill="#D4D4D4"/>
<circle cx="487.7" cy="1112.7" r="4.5" fill="#D4D4D4"/>
<circle cx="517.7" cy="906.5" r="4.5" fill="#D4D4D4"/>
<circle cx="547.6" cy="868.5" r="4.5" fill="#D4D4D4"/>
<circle cx="577.5" cy="820.9" r="4.5" fill="#D4D4D4"/>
<circle cx="607.4" cy="800.8" r="4.5" fill="#D4D4D4"/>
<circle cx="637.3" cy="810" r="4.5" fill="#D4D4D4"/>
<circle cx="667.3" cy="814.3" r="4.5" fill="#D4D4D4"/>
<circle cx="697.2" cy="803.2" r="4.5" fill="#D4D4D4"/>
<circle cx="727.1" cy="801.1" r="4.5" fill="#D4D4D4"/>
<circle cx="757" cy="801.6" r="4.5" fill="#D4D4D4"/>
<circle cx="786.9" cy="802.7" r="4.5" fill="#D4D4D4"/>
</g>
<g id="c-axes">
<line x1="151.5" y1="695.5" x2="151.5" y2="1174.6" stroke="#000" stroke-width="4.7"/>
<line x1="138.5" y1="1161.5" x2="852.2" y2="1161.5" stroke="#000" stroke-width="4.7"/>
<line x1="138.5" y1="1064.8" x2="151.5" y2="1064.8" stroke="#000" stroke-width="4.5"/>
<line x1="138.5" y1="968" x2="151.5" y2="968" stroke="#000" stroke-width="4.5"/>
<line x1="138.5" y1="871.2" x2="151.5" y2="871.2" stroke="#000" stroke-width="4.5"/>
<line x1="138.5" y1="774.5" x2="151.5" y2="774.5" stroke="#000" stroke-width="4.5"/>
<line x1="151.5" y1="1161.5" x2="151.5" y2="1174.6" stroke="#000" stroke-width="4.5"/>
<line x1="181.5" y1="1161.5" x2="181.5" y2="1168.6" stroke="#000" stroke-width="4"/>
<line x1="199.1" y1="1161.5" x2="199.1" y2="1168.6" stroke="#000" stroke-width="4"/>
<line x1="211.6" y1="1161.5" x2="211.6" y2="1168.6" stroke="#000" stroke-width="4"/>
<line x1="221.3" y1="1161.5" x2="221.3" y2="1168.6" stroke="#000" stroke-width="4"/>
<line x1="229.2" y1="1161.5" x2="229.2" y2="1168.6" stroke="#000" stroke-width="4"/>
<line x1="235.8" y1="1161.5" x2="235.8" y2="1168.6" stroke="#000" stroke-width="4"/>
<line x1="241.6" y1="1161.5" x2="241.6" y2="1168.6" stroke="#000" stroke-width="4"/>
<line x1="246.7" y1="1161.5" x2="246.7" y2="1168.6" stroke="#000" stroke-width="4"/>
<line x1="251.3" y1="1161.5" x2="251.3" y2="1174.6" stroke="#000" stroke-width="4.5"/>
<line x1="281.3" y1="1161.5" x2="281.3" y2="1168.6" stroke="#000" stroke-width="4"/>
<line x1="298.9" y1="1161.5" x2="298.9" y2="1168.6" stroke="#000" stroke-width="4"/>
<line x1="311.4" y1="1161.5" x2="311.4" y2="1168.6" stroke="#000" stroke-width="4"/>
<line x1="321.1" y1="1161.5" x2="321.1" y2="1168.6" stroke="#000" stroke-width="4"/>
<line x1="329" y1="1161.5" x2="329" y2="1168.6" stroke="#000" stroke-width="4"/>
<line x1="335.6" y1="1161.5" x2="335.6" y2="1168.6" stroke="#000" stroke-width="4"/>
<line x1="341.4" y1="1161.5" x2="341.4" y2="1168.6" stroke="#000" stroke-width="4"/>
<line x1="346.5" y1="1161.5" x2="346.5" y2="1168.6" stroke="#000" stroke-width="4"/>
<line x1="351.1" y1="1161.5" x2="351.1" y2="1174.6" stroke="#000" stroke-width="4.5"/>
<line x1="381.1" y1="1161.5" x2="381.1" y2="1168.6" stroke="#000" stroke-width="4"/>
<line x1="398.7" y1="1161.5" x2="398.7" y2="1168.6" stroke="#000" stroke-width="4"/>
<line x1="411.2" y1="1161.5" x2="411.2" y2="1168.6" stroke="#000" stroke-width="4"/>
<line x1="420.9" y1="1161.5" x2="420.9" y2="1168.6" stroke="#000" stroke-width="4"/>
<line x1="428.8" y1="1161.5" x2="428.8" y2="1168.6" stroke="#000" stroke-width="4"/>
<line x1="435.4" y1="1161.5" x2="435.4" y2="1168.6" stroke="#000" stroke-width="4"/>
<line x1="441.2" y1="1161.5" x2="441.2" y2="1168.6" stroke="#000" stroke-width="4"/>
<line x1="446.3" y1="1161.5" x2="446.3" y2="1168.6" stroke="#000" stroke-width="4"/>
<line x1="450.9" y1="1161.5" x2="450.9" y2="1174.6" stroke="#000" stroke-width="4.5"/>
<line x1="480.9" y1="1161.5" x2="480.9" y2="1168.6" stroke="#000" stroke-width="4"/>
<line x1="498.5" y1="1161.5" x2="498.5" y2="1168.6" stroke="#000" stroke-width="4"/>
<line x1="511" y1="1161.5" x2="511" y2="1168.6" stroke="#000" stroke-width="4"/>
<line x1="520.7" y1="1161.5" x2="520.7" y2="1168.6" stroke="#000" stroke-width="4"/>
<line x1="528.6" y1="1161.5" x2="528.6" y2="1168.6" stroke="#000" stroke-width="4"/>
<line x1="535.2" y1="1161.5" x2="535.2" y2="1168.6" stroke="#000" stroke-width="4"/>
<line x1="541" y1="1161.5" x2="541" y2="1168.6" stroke="#000" stroke-width="4"/>
<line x1="546.1" y1="1161.5" x2="546.1" y2="1168.6" stroke="#000" stroke-width="4"/>
<line x1="550.7" y1="1161.5" x2="550.7" y2="1174.6" stroke="#000" stroke-width="4.5"/>
<line x1="580.7" y1="1161.5" x2="580.7" y2="1168.6" stroke="#000" stroke-width="4"/>
<line x1="598.3" y1="1161.5" x2="598.3" y2="1168.6" stroke="#000" stroke-width="4"/>
<line x1="610.8" y1="1161.5" x2="610.8" y2="1168.6" stroke="#000" stroke-width="4"/>
<line x1="620.5" y1="1161.5" x2="620.5" y2="1168.6" stroke="#000" stroke-width="4"/>
<line x1="628.4" y1="1161.5" x2="628.4" y2="1168.6" stroke="#000" stroke-width="4"/>
<line x1="635" y1="1161.5" x2="635" y2="1168.6" stroke="#000" stroke-width="4"/>
<line x1="640.8" y1="1161.5" x2="640.8" y2="1168.6" stroke="#000" stroke-width="4"/>
<line x1="645.9" y1="1161.5" x2="645.9" y2="1168.6" stroke="#000" stroke-width="4"/>
<line x1="650.5" y1="1161.5" x2="650.5" y2="1174.6" stroke="#000" stroke-width="4.5"/>
<line x1="680.5" y1="1161.5" x2="680.5" y2="1168.6" stroke="#000" stroke-width="4"/>
<line x1="698.1" y1="1161.5" x2="698.1" y2="1168.6" stroke="#000" stroke-width="4"/>
<line x1="710.6" y1="1161.5" x2="710.6" y2="1168.6" stroke="#000" stroke-width="4"/>
<line x1="720.3" y1="1161.5" x2="720.3" y2="1168.6" stroke="#000" stroke-width="4"/>
<line x1="728.2" y1="1161.5" x2="728.2" y2="1168.6" stroke="#000" stroke-width="4"/>
<line x1="734.8" y1="1161.5" x2="734.8" y2="1168.6" stroke="#000" stroke-width="4"/>
<line x1="740.6" y1="1161.5" x2="740.6" y2="1168.6" stroke="#000" stroke-width="4"/>
<line x1="745.7" y1="1161.5" x2="745.7" y2="1168.6" stroke="#000" stroke-width="4"/>
<line x1="750.3" y1="1161.5" x2="750.3" y2="1174.6" stroke="#000" stroke-width="4.5"/>
<line x1="780.3" y1="1161.5" x2="780.3" y2="1168.6" stroke="#000" stroke-width="4"/>
<line x1="797.9" y1="1161.5" x2="797.9" y2="1168.6" stroke="#000" stroke-width="4"/>
<line x1="810.4" y1="1161.5" x2="810.4" y2="1168.6" stroke="#000" stroke-width="4"/>
<line x1="820.1" y1="1161.5" x2="820.1" y2="1168.6" stroke="#000" stroke-width="4"/>
<line x1="828" y1="1161.5" x2="828" y2="1168.6" stroke="#000" stroke-width="4"/>
<line x1="834.6" y1="1161.5" x2="834.6" y2="1168.6" stroke="#000" stroke-width="4"/>
<line x1="840.4" y1="1161.5" x2="840.4" y2="1168.6" stroke="#000" stroke-width="4"/>
<line x1="845.5" y1="1161.5" x2="845.5" y2="1168.6" stroke="#000" stroke-width="4"/>
<line x1="850.1" y1="1161.5" x2="850.1" y2="1174.6" stroke="#000" stroke-width="4.5"/>
</g>
<g id="c-ticklabels">
<text transform="translate(66.7 785.5) scale(1 1.04)" font-size="40.7" dx="1.3 -1.3 0">100</text>
<text transform="translate(86 882.2) scale(1 1.04)" font-size="40.7">75</text>
<text transform="translate(85.8 979) scale(1 1.04)" font-size="40.7">50</text>
<text transform="translate(86 1075.8) scale(1 1.04)" font-size="40.7">25</text>
<text transform="translate(104.9 1172.1) scale(1 1.04)" font-size="40.7">0</text>
<text transform="translate(86.4 1212.8) scale(1 1.04)" font-size="40.7" dx="0 0 0 0 1.3">0.001</text>
<text transform="translate(209.7 1212.8) scale(1 1.04)" font-size="40.7" dx="0 0 0 1.3">0.01</text>
<text transform="translate(326.5 1212.8) scale(1 1.04)" font-size="40.7" dx="0 0 1.3">0.1</text>
<text transform="translate(430 1212.8) scale(1 1.04)" font-size="40.7" dx="1.3">1</text>
<text transform="translate(519.5 1212.8) scale(1 1.04)" font-size="40.7" dx="1.3 -1.3">10</text>
<text transform="translate(612 1212.8) scale(1 1.04)" font-size="40.7" dx="1.3 -1.3 0">100</text>
<text transform="translate(709.2 1212.8) scale(1 1.04)" font-size="40.7" dx="1.3 -1.3 0 0 0">1,000</text>
<text transform="translate(820.7 1212.8) scale(1 1.04)" font-size="40.7" dx="1.3 -1.3 0 0 0 0">1,0000</text>
</g>
<text x="362" y="1301.2" font-size="44.4">Biotin (ng/mL)</text>
<text transform="translate(30.2 1072.9) rotate(-90)" font-size="41.2">Percent Growth</text>
<g id="legend-c">
<text x="928.8" y="777.6" font-size="40.8">Days Passaged</text>
<line x1="926.5" y1="818.7" x2="975.5" y2="818.7" stroke="#D4D4D4" stroke-width="2"/>
<circle cx="950.9" cy="818.7" r="4.6" fill="#D4D4D4"/>
<text transform="translate(1004.3 833.4) scale(1 1.04)" font-size="40.7" dx="1.3">1</text>
<line x1="1077" y1="818.7" x2="1126" y2="818.7" stroke="#8FB6EC" stroke-width="2"/>
<circle cx="1101.8" cy="818.7" r="4.6" fill="#8FB6EC"/>
<text transform="translate(1153.4 833.4) scale(1 1.04)" font-size="40.7">8</text>
<line x1="926.5" y1="865.1" x2="975.5" y2="865.1" stroke="#A3A3A3" stroke-width="2"/>
<circle cx="950.9" cy="865.1" r="4.6" fill="#A3A3A3"/>
<text transform="translate(1004.3 879.8) scale(1 1.04)" font-size="40.7">2</text>
<line x1="1077" y1="865.1" x2="1126" y2="865.1" stroke="#5C9CEB" stroke-width="2"/>
<circle cx="1101.8" cy="865.1" r="4.6" fill="#5C9CEB"/>
<text transform="translate(1153.4 879.8) scale(1 1.04)" font-size="40.7">9</text>
<line x1="926.5" y1="911.6" x2="975.5" y2="911.6" stroke="#8A8A8A" stroke-width="2"/>
<circle cx="950.9" cy="911.6" r="4.6" fill="#8A8A8A"/>
<text transform="translate(1004.3 926.3) scale(1 1.04)" font-size="40.7">3</text>
<line x1="1077" y1="911.6" x2="1126" y2="911.6" stroke="#1515DD" stroke-width="2"/>
<circle cx="1101.8" cy="911.6" r="4.6" fill="#1515DD"/>
<text transform="translate(1153.4 926.3) scale(1 1.04)" font-size="40.7" dx="1.3 -1.3">10</text>
<line x1="926.5" y1="957.7" x2="975.5" y2="957.7" stroke="#6F6F6F" stroke-width="2"/>
<circle cx="950.9" cy="957.7" r="4.6" fill="#6F6F6F"/>
<text transform="translate(1004.3 972.4) scale(1 1.04)" font-size="40.7">4</text>
<line x1="1077" y1="957.7" x2="1126" y2="957.7" stroke="#0B0BB0" stroke-width="2"/>
<circle cx="1101.8" cy="957.7" r="4.6" fill="#0B0BB0"/>
<text transform="translate(1153.4 972.4) scale(1 1.04)" font-size="40.7" dx="1.3 0">11</text>
<line x1="926.5" y1="1003.6" x2="975.5" y2="1003.6" stroke="#424242" stroke-width="2"/>
<circle cx="950.9" cy="1003.6" r="4.6" fill="#424242"/>
<text transform="translate(1004.3 1018.3) scale(1 1.04)" font-size="40.7">5</text>
<line x1="1077" y1="1003.6" x2="1126" y2="1003.6" stroke="#0A0A80" stroke-width="2"/>
<circle cx="1101.8" cy="1003.6" r="4.6" fill="#0A0A80"/>
<text transform="translate(1153.4 1018.3) scale(1 1.04)" font-size="40.7" dx="1.3 -1.3">12</text>
<line x1="926.5" y1="1049.4" x2="975.5" y2="1049.4" stroke="#000000" stroke-width="2"/>
<circle cx="950.9" cy="1049.4" r="4.6" fill="#000000"/>
<text transform="translate(1004.3 1064.1) scale(1 1.04)" font-size="40.7">6</text>
<line x1="1077" y1="1049.4" x2="1126" y2="1049.4" stroke="#F05252" stroke-width="2"/>
<circle cx="1101.8" cy="1049.4" r="4.6" fill="#F05252"/>
<text transform="translate(1153.4 1064.1) scale(1 1.04)" font-size="40.7" dx="1.3 -1.3">13</text>
<line x1="926.5" y1="1095.2" x2="975.5" y2="1095.2" stroke="#C8DAF2" stroke-width="2"/>
<circle cx="950.9" cy="1095.2" r="4.6" fill="#C8DAF2"/>
<text transform="translate(1004.3 1109.9) scale(1 1.04)" font-size="40.7">7</text>
<line x1="1077" y1="1095.2" x2="1126" y2="1095.2" stroke="#980C0C" stroke-width="2"/>
<circle cx="1101.8" cy="1095.2" r="4.6" fill="#980C0C"/>
<text transform="translate(1153.4 1109.9) scale(1 1.04)" font-size="40.7" dx="1.3 -1.3">14</text>
</g>
</g>
</svg>
</body></html>
